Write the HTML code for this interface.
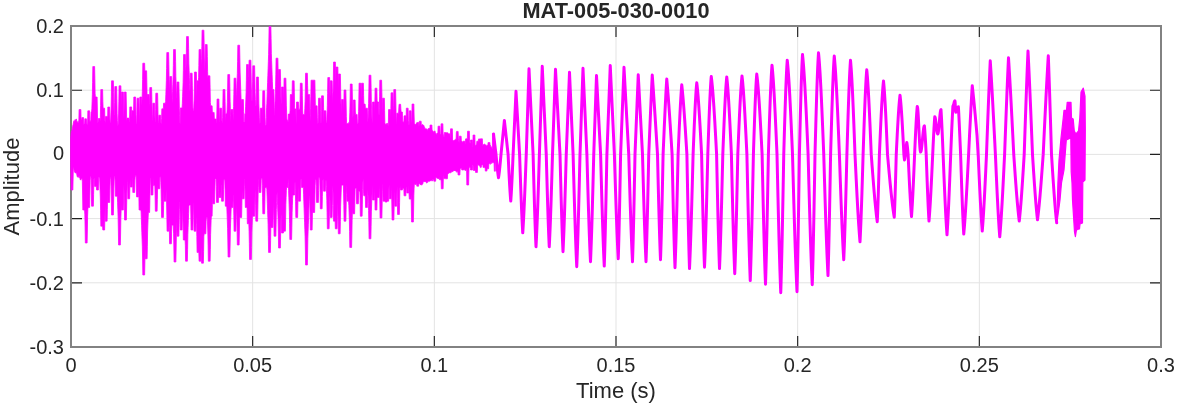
<!DOCTYPE html>
<html><head><meta charset="utf-8"><title>MAT-005-030-0010</title>
<style>html,body{margin:0;padding:0;background:#fff;}body{width:1177px;height:404px;overflow:hidden;position:relative;font-family:"Liberation Sans",sans-serif;}</style>
</head><body>
<svg width="1177" height="404" viewBox="0 0 1177 404" style="position:absolute;left:0;top:0">
<rect x="0" y="0" width="1177" height="404" fill="#ffffff"/>
<path d="M252.67,26.0 V347.0 M434.33,26.0 V347.0 M616.00,26.0 V347.0 M797.67,26.0 V347.0 M979.33,26.0 V347.0 M71.0,90.20 H1161.0 M71.0,154.40 H1161.0 M71.0,218.60 H1161.0 M71.0,282.80 H1161.0" stroke="#e3e3e3" stroke-width="1" fill="none"/>
<path d="M252.67,347.0 v-11 M252.67,26.0 v11 M434.33,347.0 v-11 M434.33,26.0 v11 M616.00,347.0 v-11 M616.00,26.0 v11 M797.67,347.0 v-11 M797.67,26.0 v11 M979.33,347.0 v-11 M979.33,26.0 v11 M71.0,90.20 h11 M1161.0,90.20 h-11 M71.0,154.40 h11 M1161.0,154.40 h-11 M71.0,218.60 h11 M1161.0,218.60 h-11 M71.0,282.80 h11 M1161.0,282.80 h-11" stroke="#202020" stroke-width="1.15" fill="none"/>
<rect x="71.0" y="26.0" width="1090.0" height="321.0" fill="none" stroke="#828282" stroke-width="2"/>
<path d="M70.60,140.0 L70.85,135.8 L71.10,132.7 L71.35,131.1 L71.60,131.1 L71.85,130.6 L72.10,129.7 L72.35,128.0 L72.60,127.1 L72.85,125.2 L73.10,124.5 L73.35,123.1 L73.60,122.0 L73.85,120.8 L74.10,121.1 L74.35,121.4 L74.60,121.5 L74.85,120.0 L75.10,119.6 L75.35,119.9 L75.60,120.6 L75.85,119.8 L76.10,119.3 L76.35,118.9 L76.60,120.0 L76.85,121.2 L77.10,121.7 L77.35,121.5 L77.60,122.8 L77.85,122.8 L78.10,123.1 L78.35,121.9 L78.60,121.2 L78.85,121.2 L79.10,109.5 L79.35,109.5 L79.60,109.5 L79.85,109.5 L80.10,109.5 L80.35,109.5 L80.60,109.5 L80.85,109.5 L81.10,119.9 L81.35,119.6 L81.60,119.9 L81.85,117.6 L82.10,117.6 L82.35,117.6 L82.60,117.6 L82.85,117.6 L83.10,117.6 L83.35,117.6 L83.60,117.6 L83.85,124.7 L84.10,123.9 L84.35,124.0 L84.60,123.9 L84.85,118.8 L85.10,118.8 L85.35,118.8 L85.60,118.8 L85.85,118.8 L86.10,118.8 L86.35,118.8 L86.60,119.5 L86.85,124.0 L87.10,124.0 L87.35,124.2 L87.60,124.4 L87.85,110.8 L88.10,110.8 L88.35,110.8 L88.60,110.8 L88.85,110.8 L89.10,110.8 L89.35,110.8 L89.60,110.8 L89.85,121.2 L90.10,121.4 L90.35,121.2 L90.60,121.8 L90.85,119.3 L91.10,111.9 L91.35,111.9 L91.60,111.9 L91.85,108.7 L92.10,101.7 L92.35,94.7 L92.60,82.5 L92.85,66.5 L93.10,66.5 L93.35,66.5 L93.60,66.5 L93.85,66.5 L94.10,66.5 L94.35,66.5 L94.60,66.5 L94.85,78.5 L95.10,93.3 L95.35,97.0 L95.60,97.0 L95.85,97.0 L96.10,97.0 L96.35,97.0 L96.60,97.0 L96.85,97.0 L97.10,97.0 L97.35,109.0 L97.60,122.6 L97.85,122.6 L98.10,122.0 L98.35,118.5 L98.60,118.5 L98.85,118.5 L99.10,118.5 L99.35,118.5 L99.60,118.5 L99.85,118.5 L100.10,121.6 L100.35,117.7 L100.60,105.5 L100.85,89.5 L101.10,89.5 L101.35,89.5 L101.60,89.5 L101.85,89.5 L102.10,89.5 L102.35,89.5 L102.60,89.5 L102.85,101.5 L103.10,108.2 L103.35,108.2 L103.60,108.2 L103.85,108.2 L104.10,108.2 L104.35,108.2 L104.60,108.2 L104.85,120.2 L105.10,122.1 L105.35,123.1 L105.60,116.4 L105.85,116.4 L106.10,116.4 L106.35,116.4 L106.60,116.4 L106.85,116.4 L107.10,116.4 L107.35,116.6 L107.60,123.0 L107.85,107.0 L108.10,107.0 L108.35,107.0 L108.60,107.0 L108.85,107.0 L109.10,107.0 L109.35,107.0 L109.60,107.0 L109.85,119.0 L110.10,121.9 L110.35,122.6 L110.60,122.6 L110.85,116.0 L111.10,109.0 L111.35,96.8 L111.60,80.8 L111.85,80.8 L112.10,80.8 L112.35,80.8 L112.60,80.8 L112.85,80.8 L113.10,80.8 L113.35,80.8 L113.60,92.7 L113.85,107.5 L114.10,114.5 L114.35,114.7 L114.60,102.5 L114.85,86.5 L115.10,86.5 L115.35,86.5 L115.60,86.5 L115.85,86.5 L116.10,86.5 L116.35,86.5 L116.60,86.5 L116.85,98.5 L117.10,113.3 L117.35,120.3 L117.60,126.1 L117.85,125.8 L118.10,124.6 L118.35,121.0 L118.60,114.0 L118.85,101.8 L119.10,85.8 L119.35,85.8 L119.60,85.8 L119.85,85.8 L120.10,85.8 L120.35,85.8 L120.60,85.8 L120.85,85.8 L121.10,97.7 L121.35,108.0 L121.60,92.0 L121.85,92.0 L122.10,92.0 L122.35,92.0 L122.60,92.0 L122.85,92.0 L123.10,92.0 L123.35,92.0 L123.60,104.0 L123.85,118.8 L124.10,108.0 L124.35,92.0 L124.60,92.0 L124.85,92.0 L125.10,92.0 L125.35,92.0 L125.60,92.0 L125.85,92.0 L126.10,92.0 L126.35,104.0 L126.60,118.8 L126.85,120.5 L127.10,118.1 L127.35,118.1 L127.60,118.1 L127.85,118.1 L128.10,118.1 L128.35,118.1 L128.60,118.1 L128.85,118.1 L129.10,121.4 L129.35,122.2 L129.60,118.4 L129.85,106.9 L130.10,106.9 L130.35,106.9 L130.60,106.9 L130.85,106.9 L131.10,106.9 L131.35,106.9 L131.60,106.9 L131.85,117.8 L132.10,110.7 L132.35,110.7 L132.60,110.7 L132.85,110.7 L133.10,110.7 L133.35,110.7 L133.60,110.7 L133.85,97.0 L134.10,97.0 L134.35,97.0 L134.60,97.0 L134.85,97.0 L135.10,97.0 L135.35,97.0 L135.60,97.0 L135.85,109.0 L136.10,123.8 L136.35,123.3 L136.60,123.1 L136.85,114.3 L137.10,98.2 L137.35,98.2 L137.60,98.2 L137.85,98.2 L138.10,98.2 L138.35,98.2 L138.60,98.2 L138.85,98.2 L139.10,110.2 L139.35,123.2 L139.60,113.0 L139.85,97.0 L140.10,97.0 L140.35,97.0 L140.60,97.0 L140.85,97.0 L141.10,97.0 L141.35,97.0 L141.60,97.0 L141.85,105.5 L142.10,98.5 L142.35,91.5 L142.60,79.3 L142.85,63.2 L143.10,63.2 L143.35,63.2 L143.60,63.2 L143.85,63.2 L144.10,63.2 L144.35,63.2 L144.60,63.2 L144.85,70.8 L145.10,70.8 L145.35,70.8 L145.60,70.8 L145.85,70.8 L146.10,70.8 L146.35,70.8 L146.60,70.8 L146.85,82.7 L147.10,97.5 L147.35,94.5 L147.60,94.5 L147.85,94.5 L148.10,94.5 L148.35,94.5 L148.60,94.5 L148.85,94.5 L149.10,94.5 L149.35,106.5 L149.60,103.5 L149.85,87.5 L150.10,87.5 L150.35,87.5 L150.60,87.5 L150.85,87.5 L151.10,87.5 L151.35,87.5 L151.60,87.5 L151.85,99.5 L152.10,114.3 L152.35,121.3 L152.60,119.3 L152.85,103.2 L153.10,103.2 L153.35,103.2 L153.60,103.2 L153.85,103.2 L154.10,103.2 L154.35,103.2 L154.60,103.2 L154.85,115.2 L155.10,121.2 L155.35,121.5 L155.60,109.3 L155.85,93.2 L156.10,93.2 L156.35,93.2 L156.60,93.2 L156.85,93.2 L157.10,93.2 L157.35,93.2 L157.60,93.2 L157.85,105.2 L158.10,120.0 L158.35,122.7 L158.60,122.9 L158.85,115.2 L159.10,115.2 L159.35,115.2 L159.60,115.2 L159.85,115.2 L160.10,115.2 L160.35,115.2 L160.60,115.2 L160.85,122.6 L161.10,123.4 L161.35,124.1 L161.60,118.5 L161.85,108.8 L162.10,108.8 L162.35,108.8 L162.60,108.8 L162.85,108.8 L163.10,108.8 L163.35,108.8 L163.60,103.2 L163.85,103.2 L164.10,103.2 L164.35,103.2 L164.60,103.2 L164.85,103.2 L165.10,103.2 L165.35,103.2 L165.60,101.7 L165.85,94.7 L166.10,87.7 L166.35,80.7 L166.60,68.5 L166.85,52.5 L167.10,52.5 L167.35,52.5 L167.60,52.5 L167.85,52.5 L168.10,52.5 L168.35,52.5 L168.60,52.5 L168.85,64.5 L169.10,79.3 L169.35,86.3 L169.60,92.5 L169.85,76.5 L170.10,76.5 L170.35,76.5 L170.60,76.5 L170.85,76.5 L171.10,76.5 L171.35,76.5 L171.60,76.5 L171.85,88.5 L172.10,103.3 L172.35,98.7 L172.60,91.7 L172.85,84.7 L173.10,77.7 L173.35,65.5 L173.60,49.5 L173.85,49.5 L174.10,49.5 L174.35,49.5 L174.60,49.5 L174.85,49.5 L175.10,49.5 L175.35,49.5 L175.60,61.5 L175.85,76.3 L176.10,83.3 L176.35,90.3 L176.60,97.3 L176.85,98.0 L177.10,82.0 L177.35,82.0 L177.60,82.0 L177.85,82.0 L178.10,82.0 L178.35,82.0 L178.60,82.0 L178.85,82.0 L179.10,94.0 L179.35,108.8 L179.60,115.8 L179.85,122.8 L180.10,123.7 L180.35,107.9 L180.60,107.9 L180.85,107.9 L181.10,107.9 L181.35,107.9 L181.60,107.9 L181.85,107.9 L182.10,107.9 L182.35,103.7 L182.60,96.7 L182.85,89.7 L183.10,82.7 L183.35,70.5 L183.60,54.5 L183.85,54.5 L184.10,54.5 L184.35,54.5 L184.60,54.5 L184.85,54.5 L185.10,54.5 L185.35,54.5 L185.60,66.5 L185.85,71.7 L186.10,64.7 L186.35,52.5 L186.60,36.5 L186.85,36.5 L187.10,36.5 L187.35,36.5 L187.60,36.5 L187.85,36.5 L188.10,36.5 L188.35,36.5 L188.60,48.5 L188.85,63.3 L189.10,70.3 L189.35,77.3 L189.60,84.3 L189.85,91.3 L190.10,89.3 L190.35,73.2 L190.60,73.2 L190.85,73.2 L191.10,73.2 L191.35,73.2 L191.60,73.2 L191.85,73.2 L192.10,73.2 L192.35,85.2 L192.60,100.0 L192.85,107.0 L193.10,110.8 L193.35,110.8 L193.60,110.8 L193.85,107.2 L194.10,100.2 L194.35,88.0 L194.60,72.0 L194.85,72.0 L195.10,72.0 L195.35,72.0 L195.60,72.0 L195.85,72.0 L196.10,72.0 L196.35,72.0 L196.60,84.0 L196.85,96.8 L197.10,80.8 L197.35,80.8 L197.60,80.8 L197.85,80.8 L198.10,80.8 L198.35,80.8 L198.60,77.7 L198.85,65.5 L199.10,49.5 L199.35,49.5 L199.60,49.5 L199.85,49.5 L200.10,49.5 L200.35,49.5 L200.60,49.5 L200.85,49.5 L201.10,61.5 L201.35,65.5 L201.60,58.5 L201.85,46.3 L202.10,30.2 L202.35,30.2 L202.60,30.2 L202.85,30.2 L203.10,30.2 L203.35,30.2 L203.60,30.2 L203.85,30.2 L204.10,42.2 L204.35,57.0 L204.60,64.0 L204.85,71.0 L205.10,60.5 L205.35,44.5 L205.60,44.5 L205.85,44.5 L206.10,44.5 L206.35,44.5 L206.60,44.5 L206.85,44.5 L207.10,44.5 L207.35,56.5 L207.60,71.3 L207.85,78.3 L208.10,75.8 L208.35,75.8 L208.60,75.8 L208.85,75.8 L209.10,75.8 L209.35,75.8 L209.60,75.8 L209.85,75.8 L210.10,87.7 L210.35,102.5 L210.60,105.8 L210.85,105.8 L211.10,105.8 L211.35,105.8 L211.60,105.8 L211.85,105.8 L212.10,105.8 L212.35,113.3 L212.60,112.4 L212.85,112.4 L213.10,112.4 L213.35,112.4 L213.60,112.4 L213.85,112.4 L214.10,112.4 L214.35,119.0 L214.60,119.0 L214.85,119.0 L215.10,119.0 L215.35,119.0 L215.60,119.0 L215.85,119.0 L216.10,119.0 L216.35,123.0 L216.60,122.7 L216.85,115.0 L217.10,99.0 L217.35,99.0 L217.60,99.0 L217.85,99.0 L218.10,99.0 L218.35,99.0 L218.60,99.0 L218.85,99.0 L219.10,111.0 L219.35,122.1 L219.60,121.7 L219.85,108.2 L220.10,108.2 L220.35,108.2 L220.60,108.2 L220.85,108.2 L221.10,108.2 L221.35,108.2 L221.60,108.2 L221.85,120.2 L222.10,122.1 L222.35,122.7 L222.60,117.7 L222.85,105.5 L223.10,89.5 L223.35,89.5 L223.60,89.5 L223.85,89.5 L224.10,89.5 L224.35,89.5 L224.60,89.5 L224.85,89.5 L225.10,101.5 L225.35,116.3 L225.60,122.3 L225.85,113.8 L226.10,113.8 L226.35,113.8 L226.60,113.8 L226.85,113.8 L227.10,109.7 L227.35,102.7 L227.60,90.5 L227.85,74.5 L228.10,74.5 L228.35,74.5 L228.60,74.5 L228.85,74.5 L229.10,74.5 L229.35,74.5 L229.60,74.5 L229.85,86.5 L230.10,101.3 L230.35,108.3 L230.60,115.3 L230.85,122.0 L231.10,109.5 L231.35,109.5 L231.60,109.5 L231.85,109.5 L232.10,109.5 L232.35,109.5 L232.60,109.5 L232.85,109.5 L233.10,120.5 L233.35,113.5 L233.60,106.5 L233.85,94.3 L234.10,78.2 L234.35,78.2 L234.60,78.2 L234.85,78.2 L235.10,78.2 L235.35,78.2 L235.60,78.2 L235.85,78.2 L236.10,90.2 L236.35,101.5 L236.60,94.5 L236.85,87.5 L237.10,80.5 L237.35,73.5 L237.60,61.3 L237.85,45.2 L238.10,45.2 L238.35,45.2 L238.60,45.2 L238.85,45.2 L239.10,45.2 L239.35,45.2 L239.60,45.2 L239.85,57.2 L240.10,72.0 L240.35,79.0 L240.60,86.0 L240.85,93.0 L241.10,100.0 L241.35,107.0 L241.60,99.5 L241.85,99.5 L242.10,99.5 L242.35,99.5 L242.60,99.5 L242.85,99.5 L243.10,99.5 L243.35,99.5 L243.60,111.5 L243.85,121.8 L244.10,122.4 L244.35,122.0 L244.60,123.1 L244.85,113.7 L245.10,113.7 L245.35,113.7 L245.60,106.7 L245.85,99.7 L246.10,92.7 L246.35,80.5 L246.60,64.5 L246.85,64.5 L247.10,64.5 L247.35,64.5 L247.60,64.5 L247.85,64.5 L248.10,64.5 L248.35,64.5 L248.60,76.5 L248.85,76.3 L249.10,60.2 L249.35,60.2 L249.60,60.2 L249.85,60.2 L250.10,60.2 L250.35,60.2 L250.60,60.2 L250.85,60.2 L251.10,72.2 L251.35,87.0 L251.60,94.0 L251.85,101.0 L252.10,101.0 L252.35,94.0 L252.60,81.8 L252.85,65.8 L253.10,65.8 L253.35,65.8 L253.60,65.8 L253.85,65.8 L254.10,65.8 L254.35,65.8 L254.60,65.8 L254.85,77.7 L255.10,92.5 L255.35,99.5 L255.60,105.9 L255.85,105.9 L256.10,105.2 L256.35,93.0 L256.60,77.0 L256.85,77.0 L257.10,77.0 L257.35,77.0 L257.60,77.0 L257.85,77.0 L258.10,77.0 L258.35,77.0 L258.60,89.0 L258.85,103.8 L259.10,110.8 L259.35,117.8 L259.60,123.9 L259.85,123.1 L260.10,123.0 L260.35,108.2 L260.60,108.2 L260.85,108.2 L261.10,108.2 L261.35,108.2 L261.60,108.2 L261.85,108.2 L262.10,108.2 L262.35,118.9 L262.60,106.7 L262.85,90.8 L263.10,90.8 L263.35,90.8 L263.60,90.8 L263.85,90.8 L264.10,90.8 L264.35,90.8 L264.60,90.8 L264.85,102.8 L265.10,117.6 L265.35,124.6 L265.60,125.4 L265.85,125.1 L266.10,124.7 L266.35,117.7 L266.60,107.8 L266.85,103.7 L267.10,96.7 L267.35,89.7 L267.60,82.7 L267.85,75.7 L268.10,68.7 L268.35,61.7 L268.60,54.7 L268.85,42.5 L269.10,26.5 L269.35,26.5 L269.60,26.5 L269.85,26.5 L270.10,26.5 L270.35,26.5 L270.60,26.5 L270.85,26.5 L271.10,38.5 L271.35,53.3 L271.60,60.3 L271.85,67.3 L272.10,74.3 L272.35,81.3 L272.60,88.3 L272.85,89.5 L273.10,89.5 L273.35,89.5 L273.60,89.5 L273.85,89.5 L274.10,101.5 L274.35,116.3 L274.60,114.4 L274.85,107.4 L275.10,100.4 L275.35,93.4 L275.60,86.4 L275.85,74.2 L276.10,58.2 L276.35,58.2 L276.60,58.2 L276.85,58.2 L277.10,58.2 L277.35,58.2 L277.60,58.2 L277.85,58.2 L278.10,70.3 L278.35,85.1 L278.60,69.5 L278.85,69.5 L279.10,69.5 L279.35,69.5 L279.60,69.5 L279.85,69.5 L280.10,69.5 L280.35,69.5 L280.60,81.5 L280.85,96.3 L281.10,103.3 L281.35,103.0 L281.60,87.0 L281.85,87.0 L282.10,87.0 L282.35,87.0 L282.60,87.0 L282.85,87.0 L283.10,87.0 L283.35,87.0 L283.60,99.0 L283.85,94.2 L284.10,78.2 L284.35,78.2 L284.60,78.2 L284.85,78.2 L285.10,78.2 L285.35,78.2 L285.60,78.2 L285.85,78.2 L286.10,90.3 L286.35,105.1 L286.60,112.1 L286.85,119.1 L287.10,119.9 L287.35,119.9 L287.60,122.3 L287.85,121.6 L288.10,122.3 L288.35,114.1 L288.60,114.1 L288.85,114.1 L289.10,114.1 L289.35,114.1 L289.60,114.1 L289.85,114.1 L290.10,110.5 L290.35,94.5 L290.60,94.5 L290.85,94.5 L291.10,94.5 L291.35,94.5 L291.60,94.5 L291.85,94.5 L292.10,94.5 L292.35,80.8 L292.60,80.8 L292.85,80.8 L293.10,80.8 L293.35,80.8 L293.60,80.8 L293.85,80.8 L294.10,80.8 L294.35,92.8 L294.60,107.6 L294.85,109.0 L295.10,109.0 L295.35,109.0 L295.60,109.0 L295.85,109.0 L296.10,124.0 L296.35,118.0 L296.60,102.0 L296.85,102.0 L297.10,102.0 L297.35,102.0 L297.60,102.0 L297.85,102.0 L298.10,102.0 L298.35,102.0 L298.60,109.2 L298.85,109.2 L299.10,109.2 L299.35,109.2 L299.60,109.2 L299.85,109.2 L300.10,99.2 L300.35,83.2 L300.60,83.2 L300.85,83.2 L301.10,83.2 L301.35,83.2 L301.60,83.2 L301.85,83.2 L302.10,83.2 L302.35,95.3 L302.60,110.1 L302.85,114.5 L303.10,114.5 L303.35,114.5 L303.60,114.5 L303.85,114.5 L304.10,114.5 L304.35,114.5 L304.60,114.5 L304.85,108.4 L305.10,101.4 L305.35,89.2 L305.60,73.2 L305.85,73.2 L306.10,73.2 L306.35,73.2 L306.60,73.2 L306.85,73.2 L307.10,73.2 L307.35,73.2 L307.60,85.3 L307.85,94.5 L308.10,94.5 L308.35,94.5 L308.60,94.5 L308.85,94.5 L309.10,94.5 L309.35,94.5 L309.60,94.5 L309.85,106.5 L310.10,121.3 L310.35,115.4 L310.60,108.4 L310.85,96.2 L311.10,80.2 L311.35,80.2 L311.60,80.2 L311.85,80.2 L312.10,80.2 L312.35,80.2 L312.60,80.2 L312.85,80.2 L313.10,80.2 L313.35,80.2 L313.60,80.2 L313.85,80.2 L314.10,80.2 L314.35,80.2 L314.60,80.2 L314.85,80.2 L315.10,92.3 L315.35,105.8 L315.60,105.8 L315.85,105.8 L316.10,105.8 L316.35,105.8 L316.60,105.8 L316.85,105.8 L317.10,105.8 L317.35,117.8 L317.60,124.0 L317.85,123.6 L318.10,123.1 L318.35,114.2 L318.60,98.2 L318.85,98.2 L319.10,98.2 L319.35,98.2 L319.60,98.2 L319.85,98.2 L320.10,98.2 L320.35,98.2 L320.60,110.3 L320.85,123.0 L321.10,122.8 L321.35,111.7 L321.60,95.8 L321.85,95.8 L322.10,95.8 L322.35,95.8 L322.60,95.8 L322.85,95.8 L323.10,95.8 L323.35,95.8 L323.60,107.8 L323.85,122.6 L324.10,110.8 L324.35,110.8 L324.60,110.8 L324.85,110.8 L325.10,110.8 L325.35,110.8 L325.60,110.8 L325.85,110.8 L326.10,122.8 L326.35,122.9 L326.60,123.1 L326.85,119.7 L327.10,112.7 L327.35,105.7 L327.60,93.5 L327.85,77.5 L328.10,77.5 L328.35,77.5 L328.60,77.5 L328.85,77.5 L329.10,77.5 L329.35,77.5 L329.60,77.5 L329.85,89.5 L330.10,96.7 L330.35,80.8 L330.60,80.8 L330.85,80.8 L331.10,80.8 L331.35,80.8 L331.60,80.8 L331.85,80.8 L332.10,80.8 L332.35,92.8 L332.60,104.2 L332.85,97.2 L333.10,90.2 L333.35,78.0 L333.60,62.0 L333.85,62.0 L334.10,62.0 L334.35,62.0 L334.60,62.0 L334.85,62.0 L335.10,62.0 L335.35,62.0 L335.60,74.0 L335.85,83.0 L336.10,67.0 L336.35,67.0 L336.60,67.0 L336.85,67.0 L337.10,67.0 L337.35,67.0 L337.60,67.0 L337.85,67.0 L338.10,79.0 L338.35,90.0 L338.60,74.0 L338.85,74.0 L339.10,74.0 L339.35,74.0 L339.60,74.0 L339.85,74.0 L340.10,74.0 L340.35,74.0 L340.60,86.0 L340.85,100.8 L341.10,107.8 L341.35,114.8 L341.60,99.5 L341.85,99.5 L342.10,99.5 L342.35,99.5 L342.60,99.5 L342.85,99.5 L343.10,99.5 L343.35,99.5 L343.60,111.5 L343.85,106.0 L344.10,90.0 L344.35,90.0 L344.60,90.0 L344.85,90.0 L345.10,90.0 L345.35,90.0 L345.60,90.0 L345.85,90.0 L346.10,102.0 L346.35,116.8 L346.60,123.4 L346.85,123.6 L347.10,124.1 L347.35,123.4 L347.60,124.0 L347.85,124.1 L348.10,123.6 L348.35,123.7 L348.60,123.6 L348.85,122.5 L349.10,122.8 L349.35,123.2 L349.60,119.2 L349.85,112.2 L350.10,100.0 L350.35,84.0 L350.60,84.0 L350.85,84.0 L351.10,84.0 L351.35,84.0 L351.60,84.0 L351.85,84.0 L352.10,84.0 L352.35,96.0 L352.60,110.8 L352.85,117.8 L353.10,116.0 L353.35,100.0 L353.60,100.0 L353.85,100.0 L354.10,100.0 L354.35,100.0 L354.60,100.0 L354.85,100.0 L355.10,100.0 L355.35,112.0 L355.60,114.4 L355.85,114.4 L356.10,114.4 L356.35,114.4 L356.60,114.4 L356.85,114.4 L357.10,114.4 L357.35,123.5 L357.60,123.7 L357.85,123.2 L358.10,123.3 L358.35,118.4 L358.60,111.4 L358.85,99.2 L359.10,83.2 L359.35,83.2 L359.60,83.2 L359.85,83.2 L360.10,83.2 L360.35,83.2 L360.60,83.2 L360.85,83.2 L361.10,95.3 L361.35,99.2 L361.60,83.2 L361.85,83.2 L362.10,83.2 L362.35,83.2 L362.60,83.2 L362.85,83.2 L363.10,83.2 L363.35,83.2 L363.60,95.3 L363.85,104.1 L364.10,104.1 L364.35,104.1 L364.60,104.1 L364.85,104.1 L365.10,104.1 L365.35,107.4 L365.60,108.2 L365.85,108.2 L366.10,108.2 L366.35,108.2 L366.60,108.2 L366.85,108.2 L367.10,108.2 L367.35,108.2 L367.60,120.3 L367.85,122.2 L368.10,117.4 L368.35,110.4 L368.60,103.4 L368.85,91.2 L369.10,75.2 L369.35,75.2 L369.60,75.2 L369.85,75.2 L370.10,75.2 L370.35,75.2 L370.60,75.2 L370.85,75.2 L371.10,87.3 L371.35,102.1 L371.60,109.1 L371.85,116.1 L372.10,123.1 L372.35,118.0 L372.60,102.0 L372.85,102.0 L373.10,102.0 L373.35,102.0 L373.60,102.0 L373.85,102.0 L374.10,102.0 L374.35,102.0 L374.60,114.0 L374.85,104.2 L375.10,88.2 L375.35,88.2 L375.60,88.2 L375.85,88.2 L376.10,88.2 L376.35,88.2 L376.60,88.2 L376.85,88.2 L377.10,100.3 L377.35,102.0 L377.60,102.0 L377.85,102.0 L378.10,102.0 L378.35,102.0 L378.60,102.0 L378.85,114.0 L379.10,115.4 L379.35,108.4 L379.60,96.2 L379.85,80.2 L380.10,80.2 L380.35,80.2 L380.60,80.2 L380.85,80.2 L381.10,80.2 L381.35,80.2 L381.60,80.2 L381.85,92.3 L382.10,107.1 L382.35,114.1 L382.60,98.2 L382.85,98.2 L383.10,98.2 L383.35,98.2 L383.60,98.2 L383.85,98.2 L384.10,98.2 L384.35,98.2 L384.60,110.3 L384.85,122.8 L385.10,123.8 L385.35,124.0 L385.60,124.6 L385.85,124.5 L386.10,124.0 L386.35,123.5 L386.60,124.3 L386.85,124.2 L387.10,124.0 L387.35,123.4 L387.60,123.4 L387.85,124.4 L388.10,125.5 L388.35,125.0 L388.60,109.5 L388.85,109.5 L389.10,109.5 L389.35,109.5 L389.60,109.5 L389.85,109.5 L390.10,109.5 L390.35,109.5 L390.60,120.9 L390.85,108.7 L391.10,92.8 L391.35,92.8 L391.60,92.8 L391.85,92.8 L392.10,92.8 L392.35,92.8 L392.60,92.8 L392.85,92.8 L393.10,104.8 L393.35,117.7 L393.60,105.5 L393.85,89.5 L394.10,89.5 L394.35,89.5 L394.60,89.5 L394.85,89.5 L395.10,89.5 L395.35,89.5 L395.60,89.5 L395.85,101.5 L396.10,116.3 L396.35,123.2 L396.60,123.1 L396.85,113.2 L397.10,113.2 L397.35,113.2 L397.60,113.2 L397.85,113.2 L398.10,113.2 L398.35,113.2 L398.60,113.2 L398.85,107.9 L399.10,104.3 L399.35,104.3 L399.60,104.3 L399.85,104.3 L400.10,104.3 L400.35,104.3 L400.60,104.3 L400.85,108.7 L401.10,112.0 L401.35,112.0 L401.60,112.0 L401.85,112.0 L402.10,112.0 L402.35,112.0 L402.60,122.0 L402.85,121.7 L403.10,122.2 L403.35,122.1 L403.60,121.9 L403.85,122.3 L404.10,115.8 L404.35,115.8 L404.60,115.8 L404.85,115.8 L405.10,115.8 L405.35,115.8 L405.60,115.8 L405.85,115.8 L406.10,122.4 L406.35,108.2 L406.60,108.2 L406.85,108.2 L407.10,108.2 L407.35,108.2 L407.60,108.2 L407.85,108.2 L408.10,108.2 L408.35,120.3 L408.60,124.0 L408.85,124.5 L409.10,125.1 L409.35,110.8 L409.60,110.8 L409.85,110.8 L410.10,110.8 L410.35,110.8 L410.60,110.8 L410.85,110.8 L411.10,110.8 L411.35,121.4 L411.60,122.5 L411.85,120.0 L412.10,104.0 L412.35,104.0 L412.60,104.0 L412.85,104.0 L413.10,104.0 L413.35,104.0 L413.60,104.0 L413.85,104.0 L414.10,116.0 L414.35,124.1 L414.60,124.6 L414.85,124.0 L415.10,124.0 L415.35,124.7 L415.60,125.3 L415.85,124.4 L416.10,123.6 L416.35,123.6 L416.60,123.6 L416.85,122.5 L417.10,122.5 L417.35,122.5 L417.60,122.5 L417.85,122.5 L418.10,122.5 L418.35,122.5 L418.60,122.5 L418.85,126.2 L419.10,125.4 L419.35,121.2 L419.60,121.2 L419.85,121.2 L420.10,121.2 L420.35,121.2 L420.60,121.2 L420.85,121.2 L421.10,121.2 L421.35,125.8 L421.60,125.2 L421.85,125.5 L422.10,125.0 L422.35,124.4 L422.60,124.5 L422.85,125.1 L423.10,124.9 L423.35,125.8 L423.60,125.5 L423.85,125.4 L424.10,126.5 L424.35,126.7 L424.60,127.2 L424.85,128.5 L425.10,128.9 L425.35,128.9 L425.60,129.6 L425.85,128.5 L426.10,129.6 L426.35,129.6 L426.60,129.3 L426.85,128.8 L427.10,129.2 L427.35,129.8 L427.60,130.5 L427.85,130.1 L428.10,129.2 L428.35,128.7 L428.60,128.3 L428.85,128.9 L429.10,128.6 L429.35,128.3 L429.60,128.7 L429.85,129.0 L430.10,125.0 L430.35,125.0 L430.60,125.0 L430.85,125.0 L431.10,125.0 L431.35,125.0 L431.60,125.0 L431.85,125.0 L432.10,130.7 L432.35,130.6 L432.60,130.9 L432.85,130.7 L433.10,131.8 L433.35,132.2 L433.60,132.1 L433.85,131.7 L434.10,132.0 L434.35,131.1 L434.60,131.4 L434.85,130.8 L435.10,131.4 L435.35,132.6 L435.60,133.4 L435.85,133.2 L436.10,133.4 L436.35,134.5 L436.60,134.2 L436.85,133.9 L437.10,133.0 L437.35,133.2 L437.60,133.2 L437.85,134.1 L438.10,126.2 L438.35,126.2 L438.60,126.2 L438.85,126.2 L439.10,126.2 L439.35,126.2 L439.60,126.2 L439.85,126.2 L440.10,134.2 L440.35,135.1 L440.60,134.2 L440.85,133.8 L441.10,123.8 L441.35,123.8 L441.60,123.8 L441.85,123.8 L442.10,123.8 L442.35,123.8 L442.60,123.8 L442.85,123.8 L443.10,133.9 L443.35,134.6 L443.60,135.6 L443.85,136.8 L444.10,136.9 L444.35,132.5 L444.60,132.5 L444.85,132.5 L445.10,132.5 L445.35,132.5 L445.60,132.5 L445.85,132.5 L446.10,132.5 L446.35,132.7 L446.60,132.7 L446.85,132.7 L447.10,132.7 L447.35,132.7 L447.60,132.7 L447.85,132.7 L448.10,133.8 L448.35,133.8 L448.60,133.8 L448.85,133.8 L449.10,133.8 L449.35,133.8 L449.60,133.8 L449.85,133.8 L450.10,137.8 L450.35,137.3 L450.60,128.8 L450.85,128.8 L451.10,128.8 L451.35,128.8 L451.60,128.8 L451.85,128.8 L452.10,128.8 L452.35,128.8 L452.60,140.8 L452.85,140.2 L453.10,140.4 L453.35,140.6 L453.60,140.9 L453.85,140.7 L454.10,141.0 L454.35,140.0 L454.60,140.0 L454.85,140.0 L455.10,140.0 L455.35,139.7 L455.60,139.2 L455.85,138.9 L456.10,139.4 L456.35,132.6 L456.60,131.4 L456.85,131.4 L457.10,131.4 L457.35,131.4 L457.60,131.4 L457.85,131.4 L458.10,131.4 L458.35,138.1 L458.60,140.4 L458.85,141.5 L459.10,142.5 L459.35,136.2 L459.60,136.2 L459.85,136.2 L460.10,136.2 L460.35,136.2 L460.60,136.2 L460.85,136.2 L461.10,136.2 L461.35,140.9 L461.60,141.5 L461.85,141.0 L462.10,141.5 L462.35,142.4 L462.60,142.1 L462.85,143.2 L463.10,141.2 L463.35,141.2 L463.60,141.2 L463.85,141.2 L464.10,141.2 L464.35,141.2 L464.60,141.2 L464.85,141.2 L465.10,144.1 L465.35,143.9 L465.60,138.9 L465.85,138.7 L466.10,138.7 L466.35,138.7 L466.60,138.7 L466.85,138.7 L467.10,138.7 L467.35,138.7 L467.60,131.2 L467.85,131.2 L468.10,131.2 L468.35,131.2 L468.60,131.2 L468.85,131.2 L469.10,131.2 L469.35,131.2 L469.60,143.3 L469.85,142.8 L470.10,143.2 L470.35,142.7 L470.60,140.0 L470.85,140.0 L471.10,140.0 L471.35,140.0 L471.60,140.0 L471.85,140.0 L472.10,140.0 L472.35,140.0 L472.60,146.6 L472.85,146.5 L473.10,135.0 L473.35,135.0 L473.60,135.0 L473.85,135.0 L474.10,135.0 L474.35,135.0 L474.60,135.0 L474.85,135.0 L475.10,145.1 L475.35,146.1 L475.60,145.7 L475.85,144.9 L476.10,144.9 L476.35,144.8 L476.60,144.9 L476.85,141.2 L477.10,141.2 L477.35,141.2 L477.60,141.2 L477.85,141.2 L478.10,141.2 L478.35,141.2 L478.60,138.9 L478.85,138.9 L479.10,138.9 L479.35,138.9 L479.60,138.9 L479.85,138.9 L480.10,138.9 L480.35,138.9 L480.60,138.8 L480.85,138.8 L481.10,138.8 L481.35,138.8 L481.60,138.8 L481.85,138.8 L482.10,138.8 L482.35,138.8 L482.60,145.7 L482.85,145.3 L483.10,145.3 L483.35,144.6 L483.60,144.7 L483.85,144.5 L484.10,144.5 L484.35,143.9 L484.60,143.9 L484.85,144.8 L485.10,144.9 L485.35,145.0 L485.60,145.1 L485.85,144.7 L486.10,146.1 L486.35,146.1 L486.60,146.0 L486.85,145.9 L487.10,145.2 L487.35,145.7 L487.60,146.0 L487.85,144.7 L488.10,142.5 L488.35,142.5 L488.60,142.5 L488.85,142.5 L489.10,142.5 L489.35,142.5 L489.60,142.5 L489.85,142.5 L490.10,145.7 L490.35,145.2 L490.60,146.1 L490.85,146.7 L491.10,146.6 L491.35,146.8 L491.60,147.4 L491.85,148.1 L492.10,148.7 L492.35,148.9 L492.60,133.8 L492.85,133.8 L493.10,133.8 L493.35,133.8 L493.60,133.8 L493.85,133.8 L494.10,133.8 L494.35,133.8 L494.60,145.8 L494.85,147.8 L495.10,147.2 L495.35,148.1 L495.35,171.2 L495.10,171.2 L494.85,171.2 L494.60,171.2 L494.35,171.2 L494.10,163.8 L493.85,162.9 L493.60,162.3 L493.35,162.1 L493.10,162.8 L492.85,162.3 L492.60,162.4 L492.35,162.4 L492.10,162.7 L491.85,163.6 L491.60,163.4 L491.35,162.4 L491.10,162.5 L490.85,162.7 L490.60,163.6 L490.35,164.3 L490.10,164.2 L489.85,163.3 L489.60,163.4 L489.35,163.0 L489.10,163.7 L488.85,163.9 L488.60,168.8 L488.35,168.8 L488.10,168.8 L487.85,168.8 L487.60,168.8 L487.35,168.8 L487.10,168.8 L486.85,171.1 L486.60,171.1 L486.35,171.1 L486.10,171.1 L485.85,171.1 L485.60,171.1 L485.35,171.1 L485.10,167.8 L484.85,167.5 L484.60,167.5 L484.35,167.5 L484.10,167.5 L483.85,167.5 L483.60,167.5 L483.35,167.5 L483.10,167.5 L482.85,164.6 L482.60,164.2 L482.35,165.0 L482.10,164.5 L481.85,165.0 L481.60,165.5 L481.35,166.8 L481.10,167.4 L480.85,167.6 L480.60,167.1 L480.35,167.4 L480.10,166.6 L479.85,166.3 L479.60,166.0 L479.35,165.7 L479.10,165.5 L478.85,165.3 L478.60,165.3 L478.35,164.8 L478.10,165.1 L477.85,164.1 L477.60,164.0 L477.35,172.5 L477.10,172.5 L476.85,172.5 L476.60,172.5 L476.35,172.5 L476.10,172.5 L475.85,172.5 L475.60,172.5 L475.35,165.4 L475.10,170.5 L474.85,170.5 L474.60,170.5 L474.35,170.5 L474.10,170.5 L473.85,170.5 L473.60,170.5 L473.35,170.5 L473.10,165.7 L472.85,164.7 L472.60,165.6 L472.35,170.0 L472.10,170.0 L471.85,170.0 L471.60,170.0 L471.35,170.0 L471.10,170.0 L470.85,170.0 L470.60,170.0 L470.35,168.2 L470.10,167.2 L469.85,167.5 L469.60,166.9 L469.35,166.8 L469.10,166.9 L468.85,173.0 L468.60,185.0 L468.35,185.0 L468.10,185.0 L467.85,185.0 L467.60,185.0 L467.35,185.0 L467.10,185.0 L466.85,185.0 L466.60,169.1 L466.35,169.3 L466.10,169.7 L465.85,170.0 L465.60,170.6 L465.35,170.5 L465.10,170.5 L464.85,169.6 L464.60,169.8 L464.35,169.7 L464.10,169.7 L463.85,169.4 L463.60,170.0 L463.35,170.0 L463.10,170.0 L462.85,170.0 L462.60,170.0 L462.35,170.0 L462.10,170.0 L461.85,170.0 L461.60,168.6 L461.35,168.0 L461.10,168.4 L460.85,168.2 L460.60,168.2 L460.35,168.4 L460.10,169.6 L459.85,175.0 L459.60,175.0 L459.35,175.0 L459.10,175.0 L458.85,175.0 L458.60,175.0 L458.35,175.0 L458.10,175.0 L457.85,171.0 L457.60,170.9 L457.35,171.3 L457.10,172.3 L456.85,172.3 L456.60,171.4 L456.35,171.1 L456.10,171.2 L455.85,170.9 L455.60,171.1 L455.35,170.9 L455.10,170.8 L454.85,170.5 L454.60,170.8 L454.35,170.1 L454.10,171.0 L453.85,170.6 L453.60,170.4 L453.35,170.9 L453.10,170.9 L452.85,171.8 L452.60,171.8 L452.35,171.5 L452.10,171.5 L451.85,171.5 L451.60,171.7 L451.35,172.3 L451.10,171.6 L450.85,172.4 L450.60,172.6 L450.35,173.0 L450.10,173.0 L449.85,172.9 L449.60,172.7 L449.35,172.8 L449.10,172.9 L448.85,173.0 L448.60,173.4 L448.35,173.5 L448.10,173.8 L447.85,174.0 L447.60,174.0 L447.35,178.8 L447.10,178.8 L446.85,178.8 L446.60,178.8 L446.35,178.8 L446.10,178.8 L445.85,178.8 L445.60,178.8 L445.35,178.6 L445.10,178.6 L444.85,178.6 L444.60,178.6 L444.35,178.6 L444.10,178.6 L443.85,178.6 L443.60,174.1 L443.35,176.7 L443.10,188.8 L442.85,188.8 L442.60,188.8 L442.35,188.8 L442.10,188.8 L441.85,188.8 L441.60,188.8 L441.35,188.8 L441.10,179.7 L440.85,179.7 L440.60,179.7 L440.35,179.7 L440.10,179.7 L439.85,179.7 L439.60,179.7 L439.35,179.7 L439.10,177.5 L438.85,177.9 L438.60,178.5 L438.35,179.0 L438.10,178.7 L437.85,178.2 L437.60,178.2 L437.35,178.4 L437.10,177.8 L436.85,177.9 L436.60,177.6 L436.35,177.7 L436.10,177.1 L435.85,177.6 L435.60,181.2 L435.35,181.2 L435.10,181.2 L434.85,181.2 L434.60,181.2 L434.35,181.2 L434.10,181.2 L433.85,181.2 L433.60,179.0 L433.35,179.1 L433.10,178.9 L432.85,179.5 L432.60,179.9 L432.35,180.9 L432.10,181.2 L431.85,180.3 L431.60,180.5 L431.35,180.1 L431.10,180.2 L430.85,180.8 L430.60,180.9 L430.35,180.6 L430.10,181.1 L429.85,180.7 L429.60,181.3 L429.35,181.2 L429.10,181.3 L428.85,181.1 L428.60,181.4 L428.35,181.0 L428.10,181.2 L427.85,181.6 L427.60,182.5 L427.35,181.8 L427.10,182.0 L426.85,182.4 L426.60,183.2 L426.35,182.5 L426.10,181.8 L425.85,181.0 L425.60,181.7 L425.35,181.7 L425.10,181.9 L424.85,181.5 L424.60,181.4 L424.35,181.8 L424.10,181.8 L423.85,181.9 L423.60,181.6 L423.35,181.8 L423.10,182.3 L422.85,183.8 L422.60,183.9 L422.35,184.3 L422.10,184.5 L421.85,185.2 L421.60,185.1 L421.35,184.8 L421.10,184.1 L420.85,184.8 L420.60,184.8 L420.35,183.9 L420.10,184.3 L419.85,183.1 L419.60,183.8 L419.35,183.5 L419.10,183.4 L418.85,184.0 L418.60,186.2 L418.35,186.2 L418.10,186.2 L417.85,186.2 L417.60,186.2 L417.35,186.2 L417.10,186.2 L416.85,186.2 L416.60,183.5 L416.35,183.7 L416.10,184.2 L415.85,184.7 L415.60,184.5 L415.35,184.5 L415.10,184.2 L414.85,184.0 L414.60,184.2 L414.35,183.6 L414.10,188.2 L413.85,195.2 L413.60,210.0 L413.35,222.0 L413.10,222.0 L412.85,222.0 L412.60,222.0 L412.35,222.0 L412.10,222.0 L411.85,222.0 L411.60,222.0 L411.35,206.0 L411.10,195.2 L410.85,199.1 L410.60,199.1 L410.35,199.1 L410.10,199.1 L409.85,199.1 L409.60,199.1 L409.35,199.1 L409.10,195.0 L408.85,185.6 L408.60,193.0 L408.35,193.0 L408.10,193.0 L407.85,193.0 L407.60,193.0 L407.35,193.0 L407.10,193.0 L406.85,193.0 L406.60,187.6 L406.35,187.7 L406.10,187.4 L405.85,195.8 L405.60,195.8 L405.35,195.8 L405.10,195.8 L404.85,195.8 L404.60,195.8 L404.35,195.8 L404.10,195.8 L403.85,189.1 L403.60,188.4 L403.35,188.3 L403.10,188.1 L402.85,188.4 L402.60,187.4 L402.35,190.0 L402.10,190.0 L401.85,190.0 L401.60,190.0 L401.35,190.0 L401.10,190.0 L400.85,190.0 L400.60,190.0 L400.35,186.6 L400.10,187.8 L399.85,187.8 L399.60,202.5 L399.35,214.5 L399.10,214.5 L398.85,214.5 L398.60,214.5 L398.35,214.5 L398.10,214.5 L397.85,214.5 L397.60,214.5 L397.35,198.5 L397.10,186.3 L396.85,194.2 L396.60,206.2 L396.35,206.2 L396.10,206.2 L395.85,206.2 L395.60,206.2 L395.35,206.2 L395.10,206.2 L394.85,206.2 L394.60,190.3 L394.35,193.2 L394.10,208.0 L393.85,220.0 L393.60,220.0 L393.35,220.0 L393.10,220.0 L392.85,220.0 L392.60,220.0 L392.35,220.0 L392.10,220.0 L391.85,204.0 L391.60,191.8 L391.35,186.7 L391.10,198.8 L390.85,198.8 L390.60,198.8 L390.35,198.8 L390.10,198.8 L389.85,198.8 L389.60,198.8 L389.35,198.8 L389.10,184.5 L388.85,189.2 L388.60,201.2 L388.35,201.2 L388.10,201.2 L387.85,201.2 L387.60,201.2 L387.35,201.2 L387.10,201.2 L386.85,202.1 L386.60,202.1 L386.35,202.1 L386.10,202.1 L385.85,202.1 L385.60,202.1 L385.35,202.1 L385.10,201.4 L384.85,201.2 L384.60,201.2 L384.35,201.2 L384.10,201.2 L383.85,201.2 L383.60,201.2 L383.35,201.2 L383.10,201.2 L382.85,185.3 L382.60,184.5 L382.35,191.2 L382.10,206.0 L381.85,218.0 L381.60,218.0 L381.35,218.0 L381.10,218.0 L380.85,218.0 L380.60,218.0 L380.35,218.0 L380.10,218.0 L379.85,202.0 L379.60,189.8 L379.35,185.5 L379.10,197.5 L378.85,197.5 L378.60,197.5 L378.35,197.5 L378.10,197.5 L377.85,197.5 L377.60,197.5 L377.35,197.5 L377.10,198.0 L376.85,210.0 L376.60,210.0 L376.35,210.0 L376.10,210.0 L375.85,210.0 L375.60,210.0 L375.35,210.0 L375.10,210.0 L374.85,194.0 L374.60,188.0 L374.35,200.0 L374.10,200.0 L373.85,200.0 L373.60,200.0 L373.35,200.0 L373.10,200.0 L372.85,200.0 L372.60,200.0 L372.35,184.5 L372.10,190.9 L371.85,197.9 L371.60,204.9 L371.35,211.9 L371.10,226.7 L370.85,238.8 L370.60,238.8 L370.35,238.8 L370.10,238.8 L369.85,238.8 L369.60,238.8 L369.35,238.8 L369.10,238.8 L368.85,222.8 L368.60,210.6 L368.35,203.6 L368.10,196.6 L367.85,189.6 L367.60,195.5 L367.35,207.5 L367.10,207.5 L366.85,207.5 L366.60,207.5 L366.35,207.5 L366.10,207.5 L365.85,207.5 L365.60,207.5 L365.35,195.8 L365.10,195.8 L364.85,195.8 L364.60,195.8 L364.35,195.8 L364.10,195.8 L363.85,195.8 L363.60,193.7 L363.35,179.9 L363.10,179.8 L362.85,182.4 L362.60,189.4 L362.35,204.2 L362.10,216.2 L361.85,216.2 L361.60,216.2 L361.35,216.2 L361.10,216.2 L360.85,216.2 L360.60,216.2 L360.35,216.2 L360.10,200.3 L359.85,191.2 L359.60,191.2 L359.35,191.2 L359.10,191.2 L358.85,191.2 L358.60,191.7 L358.35,203.8 L358.10,203.8 L357.85,203.8 L357.60,203.8 L357.35,203.8 L357.10,203.8 L356.85,203.8 L356.60,203.8 L356.35,188.2 L356.10,188.2 L355.85,188.2 L355.60,188.2 L355.35,188.2 L355.10,188.2 L354.85,201.7 L354.60,213.8 L354.35,213.8 L354.10,213.8 L353.85,213.8 L353.60,213.8 L353.35,213.8 L353.10,213.8 L352.85,213.8 L352.60,206.7 L352.35,213.7 L352.10,220.7 L351.85,235.5 L351.60,247.5 L351.35,247.5 L351.10,247.5 L350.85,247.5 L350.60,247.5 L350.35,247.5 L350.10,247.5 L349.85,247.5 L349.60,231.5 L349.35,219.3 L349.10,212.3 L348.85,205.3 L348.60,201.2 L348.35,201.2 L348.10,201.2 L347.85,201.2 L347.60,201.2 L347.35,201.2 L347.10,201.2 L346.85,185.3 L346.60,187.4 L346.35,194.4 L346.10,209.2 L345.85,221.2 L345.60,221.2 L345.35,221.2 L345.10,221.2 L344.85,221.2 L344.60,221.2 L344.35,221.2 L344.10,221.2 L343.85,205.3 L343.60,193.1 L343.35,186.1 L343.10,185.0 L342.85,185.0 L342.60,185.0 L342.35,185.0 L342.10,185.0 L341.85,185.0 L341.60,185.0 L341.35,185.9 L341.10,192.9 L340.85,199.9 L340.60,206.9 L340.35,221.7 L340.10,233.8 L339.85,233.8 L339.60,233.8 L339.35,233.8 L339.10,233.8 L338.85,233.8 L338.60,233.8 L338.35,233.8 L338.10,217.8 L337.85,205.6 L337.60,201.9 L337.35,216.7 L337.10,228.8 L336.85,228.8 L336.60,228.8 L336.35,228.8 L336.10,228.8 L335.85,228.8 L335.60,228.8 L335.35,228.8 L335.10,221.2 L334.85,221.2 L334.60,221.2 L334.35,221.2 L334.10,221.2 L333.85,221.2 L333.60,221.2 L333.35,205.3 L333.10,193.1 L332.85,186.1 L332.60,190.7 L332.35,205.5 L332.10,217.5 L331.85,217.5 L331.60,217.5 L331.35,217.5 L331.10,217.5 L330.85,217.5 L330.60,217.5 L330.35,217.5 L330.10,201.5 L329.85,194.9 L329.60,201.9 L329.35,216.7 L329.10,228.8 L328.85,228.8 L328.60,228.8 L328.35,228.8 L328.10,228.8 L327.85,228.8 L327.60,228.8 L327.35,228.8 L327.10,212.8 L326.85,200.6 L326.60,193.6 L326.35,186.6 L326.10,180.3 L325.85,180.6 L325.60,179.7 L325.35,191.2 L325.10,191.2 L324.85,191.2 L324.60,191.2 L324.35,191.2 L324.10,191.2 L323.85,191.2 L323.60,191.2 L323.35,178.8 L323.10,179.4 L322.85,180.3 L322.60,181.9 L322.35,196.7 L322.10,208.8 L321.85,208.8 L321.60,208.8 L321.35,208.8 L321.10,208.8 L320.85,208.8 L320.60,208.8 L320.35,208.8 L320.10,192.8 L319.85,180.6 L319.60,177.2 L319.35,177.5 L319.10,177.7 L318.85,177.6 L318.60,190.5 L318.35,202.5 L318.10,202.5 L317.85,202.5 L317.60,202.5 L317.35,202.5 L317.10,202.5 L316.85,202.5 L316.60,202.5 L316.35,186.5 L316.10,180.2 L315.85,179.7 L315.60,179.8 L315.35,180.3 L315.10,185.7 L314.85,200.5 L314.60,212.5 L314.35,212.5 L314.10,212.5 L313.85,212.5 L313.60,212.5 L313.35,212.5 L313.10,212.5 L312.85,212.5 L312.60,203.2 L312.35,218.0 L312.10,230.0 L311.85,230.0 L311.60,230.0 L311.35,230.0 L311.10,230.0 L310.85,230.0 L310.60,230.0 L310.35,230.0 L310.10,214.0 L309.85,201.8 L309.60,194.8 L309.35,196.2 L309.10,203.2 L308.85,210.2 L308.60,217.2 L308.35,224.2 L308.10,231.2 L307.85,238.2 L307.60,253.0 L307.35,265.0 L307.10,265.0 L306.85,265.0 L306.60,265.0 L306.35,265.0 L306.10,265.0 L305.85,265.0 L305.60,265.0 L305.35,249.0 L305.10,236.8 L304.85,229.8 L304.60,222.8 L304.35,215.8 L304.10,208.8 L303.85,201.8 L303.60,194.8 L303.35,187.8 L303.10,187.5 L302.85,187.5 L302.60,187.5 L302.35,187.5 L302.10,187.5 L301.85,187.5 L301.60,187.5 L301.35,179.6 L301.10,179.6 L300.85,179.5 L300.60,189.2 L300.35,201.2 L300.10,201.2 L299.85,201.2 L299.60,201.2 L299.35,201.2 L299.10,201.2 L298.85,201.2 L298.60,201.2 L298.35,185.3 L298.10,190.7 L297.85,205.5 L297.60,217.5 L297.35,217.5 L297.10,217.5 L296.85,217.5 L296.60,217.5 L296.35,217.5 L296.10,217.5 L295.85,217.5 L295.60,201.5 L295.35,189.3 L295.10,182.3 L294.85,183.0 L294.60,195.0 L294.35,195.0 L294.10,195.0 L293.85,195.0 L293.60,195.0 L293.35,195.0 L293.10,195.0 L292.85,195.0 L292.60,198.7 L292.35,205.7 L292.10,212.7 L291.85,227.5 L291.60,239.5 L291.35,239.5 L291.10,239.5 L290.85,239.5 L290.60,239.5 L290.35,239.5 L290.10,239.5 L289.85,239.5 L289.60,223.5 L289.35,211.3 L289.10,204.3 L288.85,197.3 L288.60,190.3 L288.35,183.3 L288.10,178.8 L287.85,187.5 L287.60,187.5 L287.35,187.5 L287.10,187.5 L286.85,187.5 L286.60,187.5 L286.35,190.4 L286.10,197.4 L285.85,204.4 L285.60,219.2 L285.35,231.2 L285.10,231.2 L284.85,231.2 L284.60,231.2 L284.35,231.2 L284.10,231.2 L283.85,231.2 L283.60,231.2 L283.35,233.0 L283.10,233.0 L282.85,233.0 L282.60,233.0 L282.35,233.0 L282.10,233.0 L281.85,233.0 L281.60,233.0 L281.35,217.0 L281.10,214.2 L280.85,221.2 L280.60,236.0 L280.35,248.0 L280.10,248.0 L279.85,248.0 L279.60,248.0 L279.35,248.0 L279.10,248.0 L278.85,248.0 L278.60,248.0 L278.35,232.0 L278.10,219.8 L277.85,212.8 L277.60,205.8 L277.35,198.8 L277.10,191.8 L276.85,195.4 L276.60,202.4 L276.35,209.4 L276.10,224.2 L275.85,236.2 L275.60,236.2 L275.35,236.2 L275.10,236.2 L274.85,236.2 L274.60,236.2 L274.35,236.2 L274.10,236.2 L273.85,220.3 L273.60,208.1 L273.35,201.1 L273.10,215.5 L272.85,227.5 L272.60,227.5 L272.35,227.5 L272.10,227.5 L271.85,227.5 L271.60,227.5 L271.35,227.5 L271.10,227.5 L270.85,225.7 L270.60,240.5 L270.35,252.5 L270.10,252.5 L269.85,252.5 L269.60,252.5 L269.35,252.5 L269.10,252.5 L268.85,252.5 L268.60,252.5 L268.35,236.5 L268.10,224.3 L267.85,217.3 L267.60,210.3 L267.35,203.3 L267.10,196.3 L266.85,189.3 L266.60,187.5 L266.35,187.5 L266.10,187.5 L265.85,187.5 L265.60,187.5 L265.35,187.5 L265.10,186.9 L264.85,201.7 L264.60,213.8 L264.35,213.8 L264.10,213.8 L263.85,213.8 L263.60,213.8 L263.35,213.8 L263.10,213.8 L262.85,213.8 L262.60,197.8 L262.35,185.6 L262.10,178.6 L261.85,178.2 L261.60,178.2 L261.35,177.7 L261.10,180.5 L260.85,192.5 L260.60,192.5 L260.35,192.5 L260.10,192.5 L259.85,192.5 L259.60,192.5 L259.35,192.5 L259.10,192.5 L258.85,179.1 L258.60,180.4 L258.35,187.4 L258.10,194.4 L257.85,209.2 L257.60,221.2 L257.35,221.2 L257.10,221.2 L256.85,221.2 L256.60,221.2 L256.35,221.2 L256.10,221.2 L255.85,221.2 L255.60,205.2 L255.35,193.0 L255.10,189.5 L254.85,204.3 L254.60,216.2 L254.35,216.2 L254.10,216.2 L253.85,216.2 L253.60,216.2 L253.35,216.2 L253.10,216.2 L252.85,216.2 L252.60,211.7 L252.35,218.7 L252.10,225.7 L251.85,232.7 L251.60,247.5 L251.35,259.5 L251.10,259.5 L250.85,259.5 L250.60,259.5 L250.35,259.5 L250.10,259.5 L249.85,259.5 L249.60,259.5 L249.35,243.5 L249.10,231.3 L248.85,224.3 L248.60,223.8 L248.35,223.8 L248.10,223.8 L247.85,223.8 L247.60,223.8 L247.35,223.8 L247.10,207.7 L246.85,207.5 L246.60,207.5 L246.35,207.5 L246.10,207.5 L245.85,207.5 L245.60,207.5 L245.35,207.5 L245.10,191.5 L244.85,179.4 L244.60,179.3 L244.35,186.8 L244.10,198.8 L243.85,198.8 L243.60,198.8 L243.35,198.8 L243.10,198.8 L242.85,198.8 L242.60,198.8 L242.35,198.8 L242.10,190.7 L241.85,205.5 L241.60,217.5 L241.35,217.5 L241.10,217.5 L240.85,217.5 L240.60,217.5 L240.35,217.5 L240.10,217.5 L239.85,217.5 L239.60,218.2 L239.35,233.0 L239.10,245.0 L238.85,245.0 L238.60,245.0 L238.35,245.0 L238.10,245.0 L237.85,245.0 L237.60,245.0 L237.35,245.0 L237.10,229.0 L236.85,216.8 L236.60,209.8 L236.35,204.5 L236.10,219.3 L235.85,231.2 L235.60,231.2 L235.35,231.2 L235.10,231.2 L234.85,231.2 L234.60,231.2 L234.35,231.2 L234.10,231.2 L233.85,215.2 L233.60,203.0 L233.35,196.0 L233.10,195.5 L232.85,207.5 L232.60,207.5 L232.35,207.5 L232.10,207.5 L231.85,207.5 L231.60,207.5 L231.35,207.5 L231.10,209.2 L230.85,216.2 L230.60,223.2 L230.35,230.2 L230.10,245.0 L229.85,257.0 L229.60,257.0 L229.35,257.0 L229.10,257.0 L228.85,257.0 L228.60,257.0 L228.35,257.0 L228.10,257.0 L227.85,241.0 L227.60,228.8 L227.35,221.8 L227.10,214.8 L226.85,207.8 L226.60,206.2 L226.35,206.2 L226.10,206.2 L225.85,206.2 L225.60,206.2 L225.35,206.2 L225.10,190.2 L224.85,180.8 L224.60,180.3 L224.35,179.6 L224.10,179.5 L223.85,179.8 L223.60,189.3 L223.35,201.2 L223.10,201.2 L222.85,201.2 L222.60,201.2 L222.35,201.2 L222.10,201.2 L221.85,201.2 L221.60,201.2 L221.35,185.2 L221.10,185.5 L220.85,197.5 L220.60,197.5 L220.35,197.5 L220.10,197.5 L219.85,197.5 L219.60,197.5 L219.35,197.5 L219.10,197.5 L218.85,181.5 L218.60,190.5 L218.35,202.5 L218.10,202.5 L217.85,202.5 L217.60,202.5 L217.35,202.5 L217.10,202.5 L216.85,202.5 L216.60,202.5 L216.35,186.5 L216.10,179.3 L215.85,179.0 L215.60,177.9 L215.35,178.8 L215.10,179.4 L214.85,191.8 L214.60,203.8 L214.35,203.8 L214.10,203.8 L213.85,203.8 L213.60,203.8 L213.35,203.8 L213.10,203.8 L212.85,203.8 L212.60,189.5 L212.35,204.3 L212.10,216.2 L211.85,216.2 L211.60,216.2 L211.35,216.2 L211.10,220.5 L210.85,227.5 L210.60,234.5 L210.35,249.3 L210.10,261.2 L209.85,261.2 L209.60,261.2 L209.35,261.2 L209.10,261.2 L208.85,261.2 L208.60,261.2 L208.35,261.2 L208.10,245.2 L207.85,233.0 L207.60,226.0 L207.35,219.0 L207.10,217.5 L206.85,217.5 L206.60,217.5 L206.35,217.5 L206.10,221.8 L205.85,233.8 L205.60,233.8 L205.35,233.8 L205.10,233.8 L204.85,233.8 L204.60,233.8 L204.35,233.8 L204.10,233.8 L203.85,236.5 L203.60,251.3 L203.35,263.2 L203.10,263.2 L202.85,263.2 L202.60,263.2 L202.35,263.2 L202.10,263.2 L201.85,263.2 L201.60,263.2 L201.35,247.2 L201.10,249.3 L200.85,261.2 L200.60,261.2 L200.35,261.2 L200.10,261.2 L199.85,261.2 L199.60,261.2 L199.35,261.2 L199.10,261.2 L198.85,252.5 L198.60,252.5 L198.35,252.5 L198.10,252.5 L197.85,252.5 L197.60,252.5 L197.35,252.5 L197.10,252.5 L196.85,236.5 L196.60,224.3 L196.35,217.3 L196.10,219.3 L195.85,231.2 L195.60,231.2 L195.35,231.2 L195.10,231.2 L194.85,231.2 L194.60,231.2 L194.35,231.2 L194.10,231.2 L193.85,215.2 L193.60,203.0 L193.35,203.2 L193.10,218.0 L192.85,230.0 L192.60,230.0 L192.35,230.0 L192.10,230.0 L191.85,230.0 L191.60,230.0 L191.35,230.0 L191.10,230.0 L190.85,214.0 L190.60,201.8 L190.35,205.0 L190.10,205.0 L189.85,205.0 L189.60,205.0 L189.35,205.0 L189.10,205.0 L188.85,206.5 L188.60,213.5 L188.35,220.5 L188.10,227.5 L187.85,234.5 L187.60,249.3 L187.35,261.2 L187.10,261.2 L186.85,261.2 L186.60,261.2 L186.35,261.2 L186.10,261.2 L185.85,261.2 L185.60,261.2 L185.35,245.2 L185.10,240.0 L184.85,240.0 L184.60,240.0 L184.35,240.0 L184.10,240.0 L183.85,240.0 L183.60,240.0 L183.35,240.0 L183.10,224.0 L182.85,211.8 L182.60,204.8 L182.35,218.0 L182.10,230.0 L181.85,230.0 L181.60,230.0 L181.35,230.0 L181.10,230.0 L180.85,230.0 L180.60,230.0 L180.35,230.0 L180.10,214.0 L179.85,201.8 L179.60,202.5 L179.35,209.5 L179.10,224.3 L178.85,236.2 L178.60,236.2 L178.35,236.2 L178.10,236.2 L177.85,236.2 L177.60,236.2 L177.35,236.2 L177.10,236.2 L176.85,221.2 L176.60,228.2 L176.35,235.2 L176.10,250.0 L175.85,262.0 L175.60,262.0 L175.35,262.0 L175.10,262.0 L174.85,262.0 L174.60,262.0 L174.35,262.0 L174.10,262.0 L173.85,246.0 L173.60,233.8 L173.35,226.8 L173.10,225.0 L172.85,225.0 L172.60,225.0 L172.35,225.0 L172.10,225.0 L171.85,225.0 L171.60,231.8 L171.35,243.8 L171.10,243.8 L170.85,243.8 L170.60,243.8 L170.35,243.8 L170.10,243.8 L169.85,243.8 L169.60,243.8 L169.35,227.7 L169.10,219.3 L168.85,231.2 L168.60,231.2 L168.35,231.2 L168.10,231.2 L167.85,231.2 L167.60,231.2 L167.35,231.2 L167.10,231.2 L166.85,215.2 L166.60,203.0 L166.35,196.0 L166.10,189.3 L165.85,201.2 L165.60,201.2 L165.35,201.2 L165.10,201.2 L164.85,201.2 L164.60,201.2 L164.35,201.2 L164.10,201.2 L163.85,190.7 L163.60,205.5 L163.35,217.5 L163.10,217.5 L162.85,217.5 L162.60,217.5 L162.35,217.5 L162.10,217.5 L161.85,217.5 L161.60,217.5 L161.35,201.5 L161.10,189.3 L160.85,182.3 L160.60,175.7 L160.35,176.4 L160.10,177.3 L159.85,177.3 L159.60,188.8 L159.35,188.8 L159.10,188.8 L158.85,188.8 L158.60,188.8 L158.35,188.8 L158.10,188.8 L157.85,188.8 L157.60,184.5 L157.35,199.3 L157.10,211.2 L156.85,211.2 L156.60,211.2 L156.35,211.2 L156.10,211.2 L155.85,211.2 L155.60,211.2 L155.35,211.2 L155.10,195.2 L154.85,185.6 L154.60,185.6 L154.35,185.6 L154.10,185.6 L153.85,185.6 L153.60,185.6 L153.35,177.8 L153.10,183.0 L152.85,195.0 L152.60,195.0 L152.35,195.0 L152.10,195.0 L151.85,195.0 L151.60,195.0 L151.35,195.0 L151.10,195.0 L150.85,179.0 L150.60,177.0 L150.35,178.7 L150.10,185.7 L149.85,200.5 L149.60,212.5 L149.35,212.5 L149.10,212.5 L148.85,212.5 L148.60,212.5 L148.35,212.5 L148.10,218.0 L147.85,225.0 L147.60,232.0 L147.35,246.8 L147.10,258.8 L146.85,258.8 L146.60,258.8 L146.35,258.8 L146.10,258.8 L145.85,258.8 L145.60,258.8 L145.35,258.8 L145.10,248.2 L144.85,263.0 L144.60,275.0 L144.35,275.0 L144.10,275.0 L143.85,275.0 L143.60,275.0 L143.35,275.0 L143.10,275.0 L142.85,275.0 L142.60,259.0 L142.35,246.8 L142.10,239.8 L141.85,232.8 L141.60,225.8 L141.35,218.8 L141.10,211.8 L140.85,210.0 L140.60,210.0 L140.35,210.0 L140.10,210.0 L139.85,210.0 L139.60,210.0 L139.35,210.0 L139.10,210.0 L138.85,194.0 L138.60,181.8 L138.35,196.9 L138.10,196.9 L137.85,196.9 L137.60,196.9 L137.35,196.9 L137.10,196.9 L136.85,196.9 L136.60,196.9 L136.35,187.1 L136.10,175.4 L135.85,175.1 L135.60,176.0 L135.35,176.5 L135.10,177.4 L134.85,180.5 L134.60,192.5 L134.35,192.5 L134.10,192.5 L133.85,192.5 L133.60,192.5 L133.35,192.5 L133.10,192.5 L132.85,192.5 L132.60,178.5 L132.35,178.9 L132.10,187.0 L131.85,187.0 L131.60,187.0 L131.35,187.0 L131.10,187.0 L130.85,187.0 L130.60,187.0 L130.35,187.0 L130.10,179.4 L129.85,186.8 L129.60,198.8 L129.35,198.8 L129.10,198.8 L128.85,198.8 L128.60,198.8 L128.35,198.8 L128.10,198.8 L127.85,198.8 L127.60,182.7 L127.35,179.2 L127.10,186.2 L126.85,193.2 L126.60,208.0 L126.35,220.0 L126.10,220.0 L125.85,220.0 L125.60,220.0 L125.35,220.0 L125.10,220.0 L124.85,220.0 L124.60,220.0 L124.35,204.0 L124.10,191.8 L123.85,184.8 L123.60,198.0 L123.35,210.0 L123.10,210.0 L122.85,210.0 L122.60,210.0 L122.35,210.0 L122.10,210.0 L121.85,210.0 L121.60,210.0 L121.35,204.2 L121.10,211.2 L120.85,218.2 L120.60,233.0 L120.35,245.0 L120.10,245.0 L119.85,245.0 L119.60,245.0 L119.35,245.0 L119.10,245.0 L118.85,245.0 L118.60,245.0 L118.35,229.0 L118.10,216.8 L117.85,209.8 L117.60,202.8 L117.35,195.8 L117.10,196.2 L116.85,196.2 L116.60,196.2 L116.35,196.2 L116.10,196.2 L115.85,196.2 L115.60,196.2 L115.35,196.2 L115.10,180.2 L114.85,176.0 L114.60,176.1 L114.35,176.1 L114.10,181.2 L113.85,188.2 L113.60,203.0 L113.35,215.0 L113.10,215.0 L112.85,215.0 L112.60,215.0 L112.35,215.0 L112.10,215.0 L111.85,215.0 L111.60,215.0 L111.35,199.0 L111.10,186.8 L110.85,179.8 L110.60,177.5 L110.35,177.8 L110.10,177.7 L109.85,190.5 L109.60,202.5 L109.35,202.5 L109.10,202.5 L108.85,202.5 L108.60,202.5 L108.35,202.5 L108.10,202.5 L107.85,202.5 L107.60,194.5 L107.35,209.3 L107.10,221.2 L106.85,221.2 L106.60,221.2 L106.35,221.2 L106.10,221.2 L105.85,221.2 L105.60,221.2 L105.35,221.2 L105.10,205.2 L104.85,218.0 L104.60,230.0 L104.35,230.0 L104.10,230.0 L103.85,230.0 L103.60,230.0 L103.35,230.0 L103.10,230.0 L102.85,230.0 L102.60,226.2 L102.35,226.2 L102.10,226.2 L101.85,226.2 L101.60,226.2 L101.35,226.2 L101.10,226.2 L100.85,226.2 L100.60,210.2 L100.35,198.0 L100.10,191.0 L99.85,184.0 L99.60,177.4 L99.35,177.6 L99.10,177.6 L98.85,177.6 L98.60,178.0 L98.35,190.0 L98.10,190.0 L97.85,190.0 L97.60,190.0 L97.35,190.0 L97.10,190.0 L96.85,190.0 L96.60,190.0 L96.35,186.4 L96.10,186.4 L95.85,186.4 L95.60,186.4 L95.35,186.4 L95.10,186.4 L94.85,186.4 L94.60,186.4 L94.35,178.0 L94.10,178.1 L93.85,179.5 L93.60,194.3 L93.35,206.2 L93.10,206.2 L92.85,206.2 L92.60,206.2 L92.35,206.2 L92.10,206.2 L91.85,206.2 L91.60,206.2 L91.35,190.2 L91.10,178.0 L90.85,176.6 L90.60,176.3 L90.35,177.3 L90.10,180.7 L89.85,195.5 L89.60,207.5 L89.35,207.5 L89.10,207.5 L88.85,207.5 L88.60,207.5 L88.35,207.5 L88.10,207.5 L87.85,209.2 L87.60,216.2 L87.35,231.0 L87.10,243.0 L86.85,243.0 L86.60,243.0 L86.35,243.0 L86.10,243.0 L85.85,243.0 L85.60,243.0 L85.35,243.0 L85.10,227.0 L84.85,214.8 L84.60,210.0 L84.35,210.0 L84.10,210.0 L83.85,210.0 L83.60,210.0 L83.35,210.0 L83.10,210.0 L82.85,210.0 L82.60,194.0 L82.35,181.8 L82.10,178.5 L81.85,177.9 L81.60,178.8 L81.35,178.7 L81.10,179.3 L80.85,180.1 L80.60,179.8 L80.35,179.9 L80.10,179.2 L79.85,177.6 L79.60,177.9 L79.35,177.2 L79.10,175.9 L78.85,176.3 L78.60,176.5 L78.35,177.3 L78.10,177.5 L77.85,177.3 L77.60,176.6 L77.35,176.9 L77.10,176.1 L76.85,174.8 L76.60,173.8 L76.35,173.3 L76.10,172.4 L75.85,172.8 L75.60,172.9 L75.35,172.9 L75.10,172.9 L74.85,172.4 L74.60,172.0 L74.35,171.1 L74.10,169.9 L73.85,168.8 L73.60,167.4 L73.35,166.7 L73.10,178.0 L72.85,190.0 L72.60,190.0 L72.35,190.0 L72.10,190.0 L71.85,190.0 L71.60,190.0 L71.35,190.0 L71.10,190.0 L70.85,174.0 L70.60,161.8 Z" fill="#ff00ff" stroke="#ff00ff" stroke-width="0.8" stroke-linejoin="round"/>
<path d="M493.50,133.9 L493.69,135.5 L493.88,137.1 L494.08,138.7 L494.27,140.2 L494.46,141.8 L494.65,143.4 L494.85,145.0 L495.04,146.5 L495.23,148.1 L495.42,149.7 L495.62,151.3 L495.81,152.8 L496.00,154.4 L496.19,156.6 L496.38,158.7 L496.58,160.8 L496.77,162.9 L496.96,164.9 L497.15,166.9 L497.35,168.7 L497.54,170.5 L497.73,172.2 L497.92,173.8 L498.12,175.2 L498.31,176.6 L498.50,177.8 L498.69,176.6 L498.88,175.2 L499.08,173.8 L499.27,172.2 L499.46,170.5 L499.65,168.7 L499.85,166.9 L500.04,164.9 L500.23,162.9 L500.42,160.8 L500.62,158.7 L500.81,156.6 L501.00,154.4 L501.20,152.4 L501.40,150.4 L501.60,148.4 L501.80,146.4 L502.00,144.4 L502.20,142.4 L502.40,140.4 L502.60,138.4 L502.80,136.5 L503.00,134.5 L503.20,132.5 L503.40,130.5 L503.60,128.5 L503.80,126.5 L504.00,124.5 L504.20,122.5 L504.40,120.5 L504.59,122.3 L504.79,124.1 L504.98,125.9 L505.18,127.6 L505.37,129.4 L505.57,131.2 L505.76,133.0 L505.96,134.8 L506.15,136.6 L506.35,138.3 L506.54,140.1 L506.74,141.9 L506.93,143.7 L507.13,145.5 L507.32,147.3 L507.52,149.0 L507.71,150.8 L507.91,152.6 L508.10,154.4 L508.29,158.4 L508.48,162.4 L508.67,166.3 L508.86,170.1 L509.05,173.9 L509.24,177.6 L509.43,181.1 L509.61,184.5 L509.80,187.7 L509.99,190.8 L510.18,193.6 L510.37,196.3 L510.56,198.8 L510.75,201.1 L510.95,198.4 L511.14,195.4 L511.34,192.2 L511.53,188.8 L511.73,185.0 L511.93,181.1 L512.12,177.0 L512.32,172.7 L512.51,168.2 L512.71,163.7 L512.90,159.1 L513.10,154.4 L513.29,150.2 L513.49,146.0 L513.68,141.8 L513.87,137.6 L514.07,133.4 L514.26,129.2 L514.45,125.0 L514.65,120.8 L514.84,116.6 L515.03,112.4 L515.23,108.2 L515.42,104.0 L515.61,99.8 L515.81,95.6 L516.00,91.3 L516.19,94.7 L516.38,98.0 L516.57,101.3 L516.76,104.6 L516.95,107.9 L517.14,111.3 L517.33,114.6 L517.52,117.9 L517.71,121.2 L517.89,124.5 L518.08,127.9 L518.27,131.2 L518.46,134.5 L518.65,137.8 L518.84,141.1 L519.03,144.4 L519.22,147.8 L519.41,151.1 L519.60,154.4 L519.80,160.3 L519.99,166.1 L520.19,171.9 L520.39,177.6 L520.58,183.3 L520.78,188.8 L520.98,194.1 L521.17,199.3 L521.37,204.3 L521.57,209.1 L521.77,213.6 L521.96,218.0 L522.16,222.1 L522.36,225.9 L522.55,229.5 L522.75,232.8 L522.94,229.9 L523.14,226.7 L523.33,223.4 L523.53,219.8 L523.72,216.1 L523.92,212.1 L524.11,208.0 L524.31,203.7 L524.50,199.3 L524.69,194.7 L524.89,190.0 L525.08,185.1 L525.28,180.2 L525.47,175.1 L525.67,170.0 L525.86,164.8 L526.06,159.6 L526.25,154.4 L526.45,148.3 L526.64,142.2 L526.84,136.1 L527.04,130.0 L527.23,123.8 L527.43,117.7 L527.62,111.6 L527.82,105.5 L528.02,99.4 L528.21,93.3 L528.41,87.2 L528.61,81.1 L528.80,75.0 L529.00,68.8 L529.20,72.9 L529.39,77.0 L529.59,81.1 L529.78,85.1 L529.98,89.2 L530.17,93.3 L530.37,97.4 L530.56,101.4 L530.76,105.5 L530.95,109.6 L531.15,113.7 L531.34,117.7 L531.54,121.8 L531.73,125.9 L531.93,130.0 L532.12,134.0 L532.32,138.1 L532.51,142.2 L532.71,146.3 L532.90,150.3 L533.10,154.4 L533.29,161.8 L533.49,169.1 L533.68,176.4 L533.87,183.6 L534.07,190.6 L534.26,197.4 L534.45,204.1 L534.65,210.5 L534.84,216.6 L535.03,222.4 L535.23,228.0 L535.42,233.2 L535.61,238.1 L535.81,242.6 L536.00,246.8 L536.20,243.1 L536.40,239.2 L536.60,235.0 L536.80,230.5 L537.00,225.7 L537.20,220.8 L537.40,215.5 L537.60,210.1 L537.80,204.5 L538.00,198.6 L538.20,192.6 L538.40,186.5 L538.60,180.2 L538.80,173.8 L539.00,167.4 L539.20,160.9 L539.40,154.4 L539.59,148.5 L539.78,142.7 L539.97,136.8 L540.16,130.9 L540.35,125.1 L540.54,119.2 L540.73,113.3 L540.92,107.4 L541.11,101.6 L541.30,95.7 L541.49,89.8 L541.68,84.0 L541.87,78.1 L542.06,72.2 L542.25,66.3 L542.44,70.5 L542.63,74.7 L542.82,78.9 L543.01,83.1 L543.20,87.3 L543.39,91.5 L543.58,95.7 L543.77,99.9 L543.96,104.1 L544.15,108.3 L544.35,112.5 L544.54,116.7 L544.73,120.9 L544.92,125.0 L545.11,129.2 L545.30,133.4 L545.49,137.6 L545.68,141.8 L545.87,146.0 L546.06,150.2 L546.25,154.4 L546.44,161.3 L546.62,168.2 L546.81,175.0 L547.00,181.8 L547.19,188.4 L547.38,194.9 L547.56,201.2 L547.75,207.3 L547.94,213.2 L548.12,218.8 L548.31,224.2 L548.50,229.3 L548.69,234.1 L548.88,238.7 L549.06,242.9 L549.25,246.8 L549.44,243.1 L549.63,239.2 L549.82,235.0 L550.01,230.5 L550.21,225.7 L550.40,220.8 L550.59,215.5 L550.78,210.1 L550.97,204.5 L551.16,198.6 L551.35,192.6 L551.54,186.5 L551.74,180.2 L551.93,173.8 L552.12,167.4 L552.31,160.9 L552.50,154.4 L552.69,149.1 L552.88,143.8 L553.06,138.5 L553.25,133.1 L553.44,127.8 L553.62,122.5 L553.81,117.2 L554.00,111.9 L554.19,106.6 L554.38,101.2 L554.56,95.9 L554.75,90.6 L554.94,85.3 L555.12,80.0 L555.31,74.7 L555.50,69.3 L555.70,73.0 L555.89,76.7 L556.09,80.4 L556.28,84.1 L556.48,87.8 L556.67,91.5 L556.87,95.2 L557.07,98.9 L557.26,102.6 L557.46,106.3 L557.65,110.0 L557.85,113.7 L558.04,117.4 L558.24,121.1 L558.43,124.8 L558.63,128.5 L558.83,132.2 L559.02,135.9 L559.22,139.6 L559.41,143.3 L559.61,147.0 L559.80,150.7 L560.00,154.4 L560.19,161.7 L560.38,169.0 L560.56,176.2 L560.75,183.3 L560.94,190.3 L561.12,197.1 L561.31,203.7 L561.50,210.2 L561.69,216.4 L561.88,222.3 L562.06,228.0 L562.25,233.4 L562.44,238.5 L562.62,243.2 L562.81,247.7 L563.00,251.8 L563.19,247.9 L563.38,243.8 L563.57,239.3 L563.76,234.6 L563.96,229.6 L564.15,224.3 L564.34,218.8 L564.53,213.1 L564.72,207.2 L564.91,201.0 L565.10,194.7 L565.29,188.2 L565.49,181.6 L565.68,174.9 L565.87,168.1 L566.06,161.3 L566.25,154.4 L566.44,149.6 L566.63,144.7 L566.82,139.9 L567.01,135.1 L567.21,130.3 L567.40,125.4 L567.59,120.6 L567.78,115.8 L567.97,111.0 L568.16,106.1 L568.35,101.3 L568.54,96.5 L568.74,91.7 L568.93,86.8 L569.12,82.0 L569.31,77.2 L569.50,72.3 L569.69,76.7 L569.88,81.0 L570.07,85.3 L570.26,89.6 L570.45,93.9 L570.64,98.3 L570.83,102.6 L571.02,106.9 L571.21,111.2 L571.39,115.5 L571.58,119.9 L571.77,124.2 L571.96,128.5 L572.15,132.8 L572.34,137.1 L572.53,141.4 L572.72,145.8 L572.91,150.1 L573.10,154.4 L573.29,161.5 L573.48,168.6 L573.68,175.6 L573.87,182.6 L574.06,189.4 L574.25,196.2 L574.44,202.8 L574.64,209.3 L574.83,215.7 L575.02,221.8 L575.21,227.7 L575.41,233.5 L575.60,239.0 L575.79,244.3 L575.98,249.3 L576.17,254.1 L576.37,258.6 L576.56,262.8 L576.75,266.8 L576.94,262.3 L577.13,257.5 L577.32,252.4 L577.51,247.0 L577.71,241.2 L577.90,235.1 L578.09,228.8 L578.28,222.2 L578.47,215.3 L578.66,208.2 L578.85,200.9 L579.04,193.4 L579.24,185.8 L579.43,178.1 L579.62,170.2 L579.81,162.3 L580.00,154.4 L580.19,149.0 L580.38,143.6 L580.56,138.3 L580.75,132.9 L580.94,127.5 L581.12,122.1 L581.31,116.8 L581.50,111.4 L581.69,106.0 L581.88,100.6 L582.06,95.2 L582.25,89.9 L582.44,84.5 L582.62,79.1 L582.81,73.7 L583.00,68.3 L583.20,72.7 L583.39,77.0 L583.59,81.3 L583.78,85.6 L583.98,89.9 L584.17,94.2 L584.37,98.5 L584.56,102.8 L584.75,107.1 L584.95,111.4 L585.14,115.7 L585.34,120.0 L585.53,124.3 L585.73,128.6 L585.92,132.9 L586.12,137.2 L586.31,141.5 L586.51,145.8 L586.70,150.1 L586.90,154.4 L587.09,161.2 L587.28,167.9 L587.47,174.7 L587.66,181.3 L587.85,187.9 L588.04,194.3 L588.23,200.7 L588.42,206.9 L588.61,212.9 L588.79,218.8 L588.98,224.5 L589.17,230.0 L589.36,235.2 L589.55,240.3 L589.74,245.1 L589.93,249.6 L590.12,253.9 L590.31,258.0 L590.50,261.8 L590.69,257.5 L590.88,252.9 L591.07,248.0 L591.26,242.8 L591.46,237.3 L591.65,231.5 L591.84,225.5 L592.03,219.1 L592.22,212.6 L592.41,205.8 L592.60,198.8 L592.79,191.7 L592.99,184.4 L593.18,177.0 L593.37,169.5 L593.56,162.0 L593.75,154.4 L593.95,148.8 L594.14,143.1 L594.34,137.5 L594.54,131.9 L594.73,126.3 L594.93,120.6 L595.12,115.0 L595.32,109.4 L595.52,103.7 L595.71,98.1 L595.91,92.5 L596.11,86.9 L596.30,81.2 L596.50,75.6 L596.70,79.4 L596.89,83.1 L597.09,86.9 L597.28,90.6 L597.48,94.4 L597.67,98.1 L597.87,101.9 L598.06,105.6 L598.26,109.4 L598.45,113.1 L598.65,116.9 L598.84,120.6 L599.04,124.4 L599.23,128.1 L599.43,131.9 L599.62,135.6 L599.82,139.4 L600.01,143.1 L600.21,146.9 L600.40,150.6 L600.60,154.4 L600.79,161.4 L600.98,168.5 L601.18,175.5 L601.37,182.4 L601.56,189.2 L601.75,195.9 L601.94,202.5 L602.14,209.0 L602.33,215.2 L602.52,221.3 L602.71,227.3 L602.91,232.9 L603.10,238.4 L603.29,243.7 L603.48,248.7 L603.67,253.4 L603.87,257.9 L604.06,262.1 L604.25,266.1 L604.44,260.6 L604.63,254.7 L604.82,248.3 L605.01,241.4 L605.20,234.1 L605.39,226.4 L605.58,218.3 L605.76,209.9 L605.95,201.1 L606.14,192.1 L606.33,182.9 L606.52,173.5 L606.71,164.0 L606.90,154.4 L607.10,149.2 L607.29,144.0 L607.49,138.7 L607.69,133.5 L607.89,128.3 L608.08,123.1 L608.28,117.8 L608.48,112.6 L608.67,107.4 L608.87,102.2 L609.07,96.9 L609.26,91.7 L609.46,86.5 L609.66,81.3 L609.86,76.0 L610.05,70.8 L610.25,65.6 L610.45,69.8 L610.65,74.1 L610.84,78.3 L611.04,82.5 L611.24,86.7 L611.44,91.0 L611.63,95.2 L611.83,99.4 L612.03,103.7 L612.23,107.9 L612.42,112.1 L612.62,116.3 L612.82,120.6 L613.02,124.8 L613.21,129.0 L613.41,133.3 L613.61,137.5 L613.81,141.7 L614.00,145.9 L614.20,150.2 L614.40,154.4 L614.59,160.7 L614.78,166.9 L614.98,173.1 L615.17,179.3 L615.36,185.3 L615.55,191.3 L615.75,197.2 L615.94,203.0 L616.13,208.7 L616.33,214.2 L616.52,219.5 L616.71,224.7 L616.90,229.7 L617.10,234.5 L617.29,239.1 L617.48,243.4 L617.67,247.6 L617.87,251.6 L618.06,255.3 L618.25,258.8 L618.45,252.8 L618.64,246.2 L618.84,239.1 L619.03,231.3 L619.23,223.0 L619.42,214.2 L619.62,204.9 L619.82,195.3 L620.01,185.3 L620.21,175.2 L620.40,164.8 L620.60,154.4 L620.80,149.3 L621.00,144.2 L621.20,139.0 L621.40,133.9 L621.60,128.8 L621.80,123.7 L622.00,118.6 L622.20,113.4 L622.40,108.3 L622.60,103.2 L622.80,98.1 L623.00,93.0 L623.20,87.8 L623.40,82.7 L623.60,77.6 L623.80,72.5 L624.00,67.3 L624.20,71.0 L624.40,74.6 L624.59,78.2 L624.79,81.9 L624.99,85.5 L625.19,89.1 L625.39,92.7 L625.58,96.4 L625.78,100.0 L625.98,103.6 L626.18,107.2 L626.38,110.9 L626.57,114.5 L626.77,118.1 L626.97,121.8 L627.17,125.4 L627.36,129.0 L627.56,132.6 L627.76,136.3 L627.96,139.9 L628.16,143.5 L628.35,147.1 L628.55,150.8 L628.75,154.4 L628.95,161.2 L629.14,167.9 L629.34,174.7 L629.54,181.3 L629.74,187.9 L629.93,194.3 L630.13,200.7 L630.33,206.9 L630.53,212.9 L630.72,218.8 L630.92,224.5 L631.12,230.0 L631.32,235.2 L631.51,240.3 L631.71,245.1 L631.91,249.6 L632.11,253.9 L632.30,258.0 L632.50,261.8 L632.69,256.2 L632.88,250.0 L633.08,243.2 L633.27,236.0 L633.46,228.3 L633.65,220.1 L633.85,211.5 L634.04,202.6 L634.23,193.3 L634.42,183.8 L634.62,174.1 L634.81,164.3 L635.00,154.4 L635.19,149.7 L635.38,145.0 L635.57,140.4 L635.76,135.7 L635.96,131.0 L636.15,126.3 L636.34,121.6 L636.53,117.0 L636.72,112.3 L636.91,107.6 L637.10,102.9 L637.29,98.2 L637.49,93.6 L637.68,88.9 L637.87,84.2 L638.06,79.5 L638.25,74.8 L638.44,78.5 L638.64,82.1 L638.83,85.7 L639.02,89.3 L639.22,92.9 L639.41,96.5 L639.60,100.2 L639.80,103.8 L639.99,107.4 L640.18,111.0 L640.38,114.6 L640.57,118.2 L640.76,121.9 L640.95,125.5 L641.15,129.1 L641.34,132.7 L641.53,136.3 L641.73,139.9 L641.92,143.6 L642.11,147.2 L642.31,150.8 L642.50,154.4 L642.69,161.6 L642.89,168.7 L643.08,175.8 L643.28,182.8 L643.47,189.7 L643.67,196.5 L643.86,203.1 L644.06,209.6 L644.25,215.9 L644.44,222.0 L644.64,227.9 L644.83,233.5 L645.03,238.9 L645.22,244.0 L645.42,248.9 L645.61,253.5 L645.81,257.8 L646.00,261.8 L646.20,256.6 L646.39,250.9 L646.59,244.7 L646.79,238.1 L646.98,231.1 L647.18,223.7 L647.38,215.9 L647.57,207.8 L647.77,199.3 L647.96,190.7 L648.16,181.8 L648.36,172.7 L648.55,163.6 L648.75,154.4 L648.94,149.7 L649.14,145.1 L649.33,140.4 L649.53,135.8 L649.72,131.2 L649.92,126.6 L650.11,122.1 L650.31,117.5 L650.50,113.1 L650.69,108.6 L650.89,104.3 L651.08,99.9 L651.28,95.6 L651.47,91.4 L651.67,87.2 L651.86,83.1 L652.06,79.1 L652.25,75.1 L652.44,77.8 L652.64,80.4 L652.83,83.1 L653.03,85.9 L653.22,88.6 L653.42,91.4 L653.61,94.2 L653.81,97.1 L654.00,99.9 L654.19,102.8 L654.39,105.7 L654.58,108.6 L654.78,111.6 L654.97,114.6 L655.17,117.5 L655.36,120.6 L655.56,123.6 L655.75,126.6 L655.94,129.7 L656.14,132.7 L656.33,135.8 L656.53,138.9 L656.72,142.0 L656.92,145.1 L657.11,148.2 L657.31,151.3 L657.50,154.4 L657.69,162.3 L657.88,170.2 L658.06,178.0 L658.25,185.6 L658.44,193.2 L658.62,200.6 L658.81,207.8 L659.00,214.7 L659.19,221.5 L659.38,227.9 L659.56,234.0 L659.75,239.9 L659.94,245.4 L660.12,250.5 L660.31,255.3 L660.50,259.8 L660.69,254.7 L660.87,249.1 L661.06,243.0 L661.24,236.6 L661.43,229.7 L661.61,222.4 L661.80,214.7 L661.99,206.8 L662.17,198.5 L662.36,190.0 L662.54,181.3 L662.73,172.4 L662.91,163.4 L663.10,154.4 L663.29,149.9 L663.48,145.5 L663.68,141.0 L663.87,136.6 L664.06,132.2 L664.25,127.9 L664.44,123.6 L664.64,119.4 L664.83,115.3 L665.02,111.2 L665.21,107.2 L665.41,103.3 L665.60,99.5 L665.79,95.8 L665.98,92.2 L666.17,88.8 L666.37,85.4 L666.56,82.1 L666.75,79.0 L666.95,81.2 L667.15,83.5 L667.34,85.8 L667.54,88.1 L667.74,90.6 L667.94,93.0 L668.14,95.6 L668.34,98.1 L668.53,100.8 L668.73,103.5 L668.93,106.2 L669.13,109.0 L669.33,111.8 L669.52,114.7 L669.72,117.6 L669.92,120.5 L670.12,123.5 L670.32,126.5 L670.51,129.5 L670.71,132.6 L670.91,135.6 L671.11,138.7 L671.31,141.8 L671.51,145.0 L671.70,148.1 L671.90,151.3 L672.10,154.4 L672.29,163.5 L672.49,172.5 L672.68,181.4 L672.87,190.2 L673.07,198.8 L673.26,207.2 L673.45,215.4 L673.65,223.2 L673.84,230.7 L674.03,237.9 L674.23,244.7 L674.42,251.1 L674.61,257.1 L674.81,262.7 L675.00,267.8 L675.19,263.0 L675.39,257.8 L675.58,252.3 L675.77,246.4 L675.97,240.1 L676.16,233.5 L676.36,226.5 L676.55,219.3 L676.74,211.8 L676.94,204.1 L677.13,196.1 L677.33,188.0 L677.52,179.7 L677.71,171.4 L677.91,162.9 L678.10,154.4 L678.29,150.0 L678.48,145.6 L678.68,141.3 L678.87,137.0 L679.06,132.7 L679.25,128.5 L679.44,124.4 L679.64,120.4 L679.83,116.5 L680.02,112.7 L680.21,109.0 L680.41,105.4 L680.60,102.0 L680.79,98.7 L680.98,95.6 L681.17,92.7 L681.37,89.9 L681.56,87.2 L681.75,84.8 L681.95,86.5 L682.15,88.4 L682.34,90.4 L682.54,92.4 L682.74,94.6 L682.94,96.8 L683.14,99.1 L683.33,101.5 L683.53,104.0 L683.73,106.5 L683.93,109.1 L684.13,111.8 L684.33,114.6 L684.52,117.4 L684.72,120.2 L684.92,123.2 L685.12,126.1 L685.32,129.2 L685.51,132.2 L685.71,135.3 L685.91,138.5 L686.11,141.6 L686.31,144.8 L686.50,148.0 L686.70,151.2 L686.90,154.4 L687.09,164.2 L687.27,173.9 L687.46,183.5 L687.64,192.9 L687.83,202.2 L688.01,211.1 L688.20,219.7 L688.39,228.0 L688.57,235.9 L688.76,243.4 L688.94,250.4 L689.13,256.9 L689.31,263.0 L689.50,268.6 L689.69,264.5 L689.88,260.2 L690.07,255.6 L690.26,250.8 L690.45,245.7 L690.64,240.3 L690.83,234.7 L691.02,228.9 L691.21,222.8 L691.39,216.6 L691.58,210.2 L691.77,203.6 L691.96,196.8 L692.15,190.0 L692.34,183.0 L692.53,175.9 L692.72,168.8 L692.91,161.6 L693.10,154.4 L693.29,149.6 L693.48,144.8 L693.68,140.1 L693.87,135.4 L694.06,130.9 L694.25,126.3 L694.44,122.0 L694.64,117.7 L694.83,113.6 L695.02,109.6 L695.21,105.8 L695.41,102.2 L695.60,98.8 L695.79,95.5 L695.98,92.5 L696.17,89.7 L696.37,87.2 L696.56,84.9 L696.75,82.8 L696.94,84.3 L697.14,86.0 L697.33,87.9 L697.53,89.9 L697.72,92.0 L697.91,94.2 L698.11,96.5 L698.30,99.0 L698.50,101.6 L698.69,104.3 L698.88,107.1 L699.08,110.1 L699.27,113.1 L699.47,116.2 L699.66,119.4 L699.85,122.6 L700.05,126.0 L700.24,129.4 L700.44,132.9 L700.63,136.4 L700.82,139.9 L701.02,143.5 L701.21,147.1 L701.41,150.8 L701.60,154.4 L701.79,163.4 L701.99,172.4 L702.18,181.3 L702.37,190.0 L702.57,198.6 L702.76,207.0 L702.95,215.1 L703.15,222.9 L703.34,230.4 L703.53,237.5 L703.73,244.3 L703.92,250.7 L704.11,256.7 L704.31,262.2 L704.50,267.3 L704.69,262.8 L704.89,258.0 L705.08,252.8 L705.28,247.4 L705.47,241.6 L705.66,235.5 L705.86,229.1 L706.05,222.5 L706.25,215.6 L706.44,208.4 L706.64,201.1 L706.83,193.6 L707.02,185.9 L707.22,178.2 L707.41,170.3 L707.61,162.4 L707.80,154.4 L707.99,148.8 L708.18,143.3 L708.38,137.8 L708.57,132.4 L708.76,127.1 L708.95,121.9 L709.14,116.9 L709.33,112.1 L709.52,107.4 L709.72,102.9 L709.91,98.7 L710.10,94.7 L710.29,91.0 L710.48,87.5 L710.67,84.3 L710.87,81.4 L711.06,78.8 L711.25,76.5 L711.45,78.0 L711.65,79.6 L711.84,81.4 L712.04,83.3 L712.24,85.3 L712.44,87.5 L712.64,89.8 L712.84,92.2 L713.03,94.7 L713.23,97.3 L713.43,100.1 L713.63,102.9 L713.83,105.9 L714.02,108.9 L714.22,112.1 L714.42,115.3 L714.62,118.6 L714.82,121.9 L715.01,125.4 L715.21,128.9 L715.41,132.4 L715.61,136.0 L715.81,139.6 L716.01,143.3 L716.20,147.0 L716.40,150.7 L716.60,154.4 L716.79,163.5 L716.99,172.6 L717.18,181.6 L717.37,190.4 L717.57,199.1 L717.76,207.6 L717.95,215.8 L718.15,223.7 L718.34,231.2 L718.53,238.5 L718.73,245.3 L718.92,251.8 L719.11,257.8 L719.31,263.4 L719.50,268.6 L719.69,264.0 L719.89,259.1 L720.08,253.9 L720.28,248.4 L720.47,242.5 L720.66,236.4 L720.86,229.9 L721.05,223.2 L721.25,216.2 L721.44,209.0 L721.64,201.6 L721.83,194.0 L722.02,186.3 L722.22,178.4 L722.41,170.5 L722.61,162.5 L722.80,154.4 L723.00,149.4 L723.19,144.5 L723.39,139.6 L723.59,134.7 L723.79,129.9 L723.99,125.2 L724.18,120.6 L724.38,116.2 L724.58,111.9 L724.77,107.7 L724.97,103.7 L725.17,99.9 L725.37,96.2 L725.56,92.8 L725.76,89.6 L725.96,86.6 L726.16,83.9 L726.36,81.3 L726.55,79.1 L726.75,77.0 L726.94,78.7 L727.14,80.6 L727.33,82.6 L727.52,84.8 L727.72,87.1 L727.91,89.6 L728.11,92.3 L728.30,95.1 L728.49,98.0 L728.69,101.1 L728.88,104.3 L729.08,107.7 L729.27,111.1 L729.46,114.7 L729.66,118.4 L729.85,122.2 L730.04,126.0 L730.24,129.9 L730.43,133.9 L730.62,137.9 L730.82,142.0 L731.01,146.1 L731.21,150.3 L731.40,154.4 L731.60,162.8 L731.79,171.2 L731.99,179.5 L732.19,187.8 L732.39,195.9 L732.58,203.8 L732.78,211.5 L732.98,219.1 L733.17,226.4 L733.37,233.4 L733.57,240.1 L733.76,246.6 L733.96,252.7 L734.16,258.5 L734.36,264.0 L734.55,269.1 L734.75,273.8 L734.94,268.7 L735.13,263.3 L735.32,257.4 L735.51,251.2 L735.70,244.6 L735.89,237.7 L736.08,230.4 L736.27,222.8 L736.47,214.9 L736.66,206.7 L736.85,198.4 L737.04,189.8 L737.23,181.1 L737.42,172.3 L737.61,163.3 L737.80,154.4 L737.99,149.8 L738.18,145.3 L738.37,140.7 L738.56,136.2 L738.75,131.8 L738.95,127.4 L739.14,123.1 L739.33,119.0 L739.52,114.9 L739.71,110.9 L739.90,107.1 L740.09,103.4 L740.28,99.9 L740.47,96.5 L740.66,93.3 L740.85,90.2 L741.05,87.4 L741.24,84.7 L741.43,82.2 L741.62,80.0 L741.81,77.9 L742.00,76.0 L742.20,77.6 L742.39,79.4 L742.59,81.4 L742.78,83.5 L742.98,85.8 L743.18,88.2 L743.37,90.7 L743.57,93.4 L743.76,96.2 L743.96,99.2 L744.16,102.2 L744.35,105.4 L744.55,108.7 L744.74,112.2 L744.94,115.7 L745.14,119.3 L745.33,123.0 L745.53,126.7 L745.72,130.6 L745.92,134.4 L746.12,138.4 L746.31,142.4 L746.51,146.4 L746.70,150.4 L746.90,154.4 L747.10,163.3 L747.29,172.2 L747.49,181.0 L747.69,189.6 L747.89,198.2 L748.08,206.6 L748.28,214.8 L748.48,222.7 L748.67,230.4 L748.87,237.9 L749.07,245.0 L749.26,251.8 L749.46,258.3 L749.66,264.4 L749.86,270.2 L750.05,275.5 L750.25,280.6 L750.45,275.2 L750.64,269.5 L750.84,263.3 L751.04,256.7 L751.23,249.7 L751.43,242.4 L751.63,234.7 L751.83,226.6 L752.02,218.3 L752.22,209.7 L752.42,200.8 L752.61,191.8 L752.81,182.6 L753.01,173.3 L753.20,163.9 L753.40,154.4 L753.60,148.3 L753.79,142.3 L753.99,136.3 L754.19,130.4 L754.39,124.7 L754.58,119.0 L754.78,113.6 L754.98,108.4 L755.17,103.4 L755.37,98.7 L755.57,94.2 L755.76,90.0 L755.96,86.2 L756.16,82.6 L756.36,79.4 L756.55,76.5 L756.75,74.0 L756.95,75.6 L757.15,77.2 L757.34,79.1 L757.54,81.0 L757.74,83.1 L757.94,85.4 L758.14,87.7 L758.34,90.2 L758.53,92.8 L758.73,95.5 L758.93,98.3 L759.13,101.3 L759.33,104.3 L759.52,107.5 L759.72,110.7 L759.92,114.0 L760.12,117.4 L760.32,120.9 L760.51,124.4 L760.71,128.1 L760.91,131.7 L761.11,135.4 L761.31,139.2 L761.51,143.0 L761.70,146.8 L761.90,150.6 L762.10,154.4 L762.30,163.6 L762.50,172.7 L762.70,181.7 L762.90,190.7 L763.10,199.5 L763.30,208.1 L763.50,216.6 L763.70,224.8 L763.90,232.7 L764.10,240.3 L764.30,247.7 L764.50,254.7 L764.70,261.4 L764.90,267.7 L765.10,273.6 L765.30,279.1 L765.50,284.3 L765.69,278.4 L765.89,272.0 L766.08,265.2 L766.27,257.9 L766.47,250.1 L766.66,241.8 L766.85,233.2 L767.05,224.2 L767.24,214.9 L767.43,205.3 L767.63,195.4 L767.82,185.3 L768.01,175.1 L768.21,164.8 L768.40,154.4 L768.59,148.4 L768.78,142.4 L768.97,136.4 L769.16,130.5 L769.35,124.8 L769.54,119.1 L769.73,113.6 L769.92,108.3 L770.11,103.1 L770.29,98.1 L770.48,93.4 L770.67,88.9 L770.86,84.7 L771.05,80.7 L771.24,77.0 L771.43,73.7 L771.62,70.6 L771.81,67.7 L772.00,65.2 L772.19,67.0 L772.38,69.0 L772.58,71.1 L772.77,73.4 L772.96,75.8 L773.15,78.4 L773.35,81.2 L773.54,84.1 L773.73,87.1 L773.92,90.3 L774.12,93.6 L774.31,97.0 L774.50,100.6 L774.69,104.3 L774.88,108.1 L775.08,111.9 L775.27,115.9 L775.46,120.0 L775.65,124.1 L775.85,128.3 L776.04,132.6 L776.23,136.9 L776.42,141.2 L776.62,145.6 L776.81,150.0 L777.00,154.4 L777.20,163.1 L777.39,171.8 L777.59,180.5 L777.79,189.1 L777.99,197.5 L778.18,205.9 L778.38,214.0 L778.58,222.0 L778.78,229.8 L778.97,237.4 L779.17,244.7 L779.37,251.8 L779.57,258.6 L779.76,265.0 L779.96,271.2 L780.16,277.1 L780.36,282.7 L780.55,287.9 L780.75,292.8 L780.94,286.9 L781.12,280.6 L781.31,273.8 L781.50,266.6 L781.69,259.0 L781.88,250.9 L782.06,242.4 L782.25,233.6 L782.44,224.5 L782.62,215.0 L782.81,205.3 L783.00,195.4 L783.19,185.3 L783.38,175.1 L783.56,164.8 L783.75,154.4 L783.94,147.7 L784.14,141.0 L784.33,134.4 L784.53,127.8 L784.72,121.4 L784.92,115.2 L785.11,109.1 L785.31,103.2 L785.50,97.6 L785.69,92.2 L785.89,87.1 L786.08,82.2 L786.28,77.7 L786.47,73.6 L786.67,69.7 L786.86,66.2 L787.06,63.0 L787.25,60.2 L787.44,62.1 L787.64,64.1 L787.83,66.2 L788.03,68.5 L788.22,70.9 L788.42,73.6 L788.61,76.3 L788.81,79.2 L789.00,82.2 L789.19,85.4 L789.39,88.7 L789.58,92.2 L789.78,95.7 L789.97,99.4 L790.17,103.2 L790.36,107.1 L790.56,111.1 L790.75,115.2 L790.94,119.3 L791.14,123.5 L791.33,127.8 L791.53,132.2 L791.72,136.6 L791.92,141.0 L792.11,145.4 L792.31,149.9 L792.50,154.4 L792.70,161.6 L792.89,168.7 L793.09,175.8 L793.28,182.9 L793.48,189.9 L793.67,196.9 L793.87,203.7 L794.07,210.5 L794.26,217.1 L794.46,223.6 L794.65,229.9 L794.85,236.1 L795.04,242.2 L795.24,248.1 L795.43,253.7 L795.63,259.2 L795.83,264.5 L796.02,269.6 L796.22,274.5 L796.41,279.1 L796.61,283.6 L796.80,287.8 L797.00,291.8 L797.20,283.9 L797.40,275.3 L797.60,265.8 L797.80,255.6 L798.00,244.6 L798.20,233.1 L798.40,220.9 L798.60,208.2 L798.80,195.1 L799.00,181.7 L799.20,168.1 L799.40,154.4 L799.59,146.4 L799.79,138.4 L799.98,130.5 L800.17,122.8 L800.37,115.2 L800.56,107.9 L800.76,100.9 L800.95,94.1 L801.14,87.7 L801.34,81.6 L801.53,76.0 L801.73,70.8 L801.92,66.0 L802.11,61.7 L802.31,57.9 L802.50,54.5 L802.69,56.3 L802.89,58.2 L803.08,60.3 L803.27,62.6 L803.47,64.9 L803.66,67.4 L803.85,70.1 L804.04,72.9 L804.24,75.8 L804.43,78.9 L804.62,82.1 L804.82,85.4 L805.01,88.8 L805.20,92.3 L805.40,95.9 L805.59,99.7 L805.78,103.5 L805.98,107.4 L806.17,111.4 L806.36,115.5 L806.56,119.6 L806.75,123.9 L806.94,128.1 L807.13,132.4 L807.33,136.8 L807.52,141.2 L807.71,145.6 L807.91,150.0 L808.10,154.4 L808.30,161.8 L808.50,169.3 L808.69,176.7 L808.89,184.0 L809.09,191.3 L809.29,198.4 L809.48,205.5 L809.68,212.4 L809.88,219.2 L810.08,225.8 L810.27,232.3 L810.47,238.5 L810.67,244.6 L810.87,250.4 L811.06,256.1 L811.26,261.5 L811.46,266.6 L811.66,271.5 L811.85,276.2 L812.05,280.6 L812.25,284.8 L812.45,278.5 L812.64,271.5 L812.84,264.1 L813.04,256.1 L813.23,247.5 L813.43,238.5 L813.62,229.1 L813.82,219.2 L814.02,209.0 L814.21,198.4 L814.41,187.6 L814.61,176.7 L814.80,165.6 L815.00,154.4 L815.19,147.1 L815.39,139.9 L815.58,132.8 L815.78,125.7 L815.97,118.8 L816.17,112.0 L816.36,105.5 L816.56,99.1 L816.75,93.0 L816.94,87.2 L817.14,81.7 L817.33,76.5 L817.53,71.6 L817.72,67.1 L817.92,63.0 L818.11,59.2 L818.31,55.8 L818.50,52.8 L818.69,54.7 L818.89,56.9 L819.08,59.2 L819.28,61.6 L819.47,64.3 L819.67,67.1 L819.86,70.1 L820.06,73.2 L820.25,76.5 L820.44,79.9 L820.64,83.5 L820.83,87.2 L821.03,91.1 L821.22,95.1 L821.42,99.1 L821.61,103.3 L821.81,107.6 L822.00,112.0 L822.19,116.5 L822.39,121.1 L822.58,125.7 L822.78,130.4 L822.97,135.1 L823.17,139.9 L823.36,144.7 L823.56,149.6 L823.75,154.4 L823.94,161.0 L824.14,167.6 L824.33,174.2 L824.52,180.7 L824.72,187.1 L824.91,193.5 L825.10,199.8 L825.30,206.0 L825.49,212.0 L825.68,218.0 L825.88,223.8 L826.07,229.4 L826.26,234.9 L826.45,240.2 L826.65,245.3 L826.84,250.2 L827.03,255.0 L827.23,259.5 L827.42,263.8 L827.61,268.0 L827.81,271.9 L828.00,275.6 L828.19,269.7 L828.37,263.2 L828.56,256.3 L828.74,248.9 L828.93,240.9 L829.11,232.6 L829.30,223.8 L829.49,214.6 L829.67,205.1 L829.86,195.3 L830.04,185.3 L830.23,175.1 L830.41,164.8 L830.60,154.4 L830.79,147.7 L830.98,141.1 L831.18,134.6 L831.37,128.1 L831.56,121.7 L831.75,115.4 L831.94,109.4 L832.14,103.5 L832.33,97.8 L832.52,92.3 L832.71,87.1 L832.91,82.1 L833.10,77.5 L833.29,73.1 L833.48,69.0 L833.67,65.3 L833.87,61.8 L834.06,58.8 L834.25,56.0 L834.45,58.0 L834.65,60.1 L834.84,62.5 L835.04,65.0 L835.24,67.7 L835.44,70.6 L835.64,73.6 L835.83,76.8 L836.03,80.1 L836.23,83.6 L836.43,87.3 L836.63,91.1 L836.83,95.0 L837.02,99.1 L837.22,103.2 L837.42,107.5 L837.62,111.9 L837.82,116.4 L838.01,121.0 L838.21,125.6 L838.41,130.3 L838.61,135.1 L838.81,139.9 L839.00,144.7 L839.20,149.5 L839.40,154.4 L839.60,160.1 L839.80,165.9 L839.99,171.6 L840.19,177.2 L840.39,182.9 L840.59,188.4 L840.78,193.9 L840.98,199.3 L841.18,204.5 L841.38,209.7 L841.58,214.7 L841.77,219.6 L841.97,224.4 L842.17,229.0 L842.37,233.5 L842.56,237.8 L842.76,241.9 L842.96,245.8 L843.16,249.6 L843.35,253.2 L843.55,256.6 L843.75,259.8 L843.95,255.3 L844.14,250.5 L844.34,245.4 L844.54,239.9 L844.73,234.0 L844.93,227.9 L845.13,221.5 L845.33,214.7 L845.52,207.8 L845.72,200.6 L845.92,193.2 L846.11,185.6 L846.31,178.0 L846.51,170.2 L846.70,162.3 L846.90,154.4 L847.09,148.0 L847.28,141.7 L847.47,135.4 L847.66,129.2 L847.85,123.1 L848.04,117.1 L848.23,111.3 L848.42,105.7 L848.61,100.2 L848.79,95.0 L848.98,90.0 L849.17,85.3 L849.36,80.8 L849.55,76.6 L849.74,72.7 L849.93,69.1 L850.12,65.8 L850.31,62.9 L850.50,60.2 L850.70,62.4 L850.89,64.8 L851.09,67.4 L851.28,70.2 L851.48,73.2 L851.67,76.4 L851.87,79.9 L852.07,83.5 L852.26,87.3 L852.46,91.3 L852.65,95.4 L852.85,99.8 L853.04,104.2 L853.24,108.8 L853.43,113.6 L853.63,118.4 L853.83,123.4 L854.02,128.4 L854.22,133.5 L854.41,138.7 L854.61,143.9 L854.80,149.1 L855.00,154.4 L855.19,158.4 L855.38,162.5 L855.58,166.5 L855.77,170.5 L855.96,174.4 L856.15,178.4 L856.35,182.2 L856.54,186.1 L856.73,189.9 L856.92,193.6 L857.12,197.3 L857.31,200.9 L857.50,204.4 L857.69,207.9 L857.88,211.3 L858.08,214.5 L858.27,217.7 L858.46,220.8 L858.65,223.8 L858.85,226.7 L859.04,229.5 L859.23,232.2 L859.42,234.7 L859.62,237.2 L859.81,239.6 L860.00,241.8 L860.19,238.1 L860.39,234.1 L860.58,229.8 L860.77,225.3 L860.97,220.4 L861.16,215.3 L861.36,210.0 L861.55,204.4 L861.74,198.7 L861.94,192.7 L862.13,186.6 L862.33,180.3 L862.52,173.9 L862.71,167.5 L862.91,160.9 L863.10,154.4 L863.29,148.7 L863.48,143.0 L863.68,137.3 L863.87,131.7 L864.06,126.3 L864.25,120.9 L864.44,115.7 L864.64,110.6 L864.83,105.7 L865.02,101.0 L865.21,96.5 L865.41,92.2 L865.60,88.2 L865.79,84.5 L865.98,81.0 L866.17,77.7 L866.37,74.8 L866.56,72.1 L866.75,69.8 L866.95,71.7 L867.14,73.8 L867.34,76.2 L867.53,78.7 L867.73,81.4 L867.92,84.3 L868.12,87.4 L868.32,90.6 L868.51,94.1 L868.71,97.6 L868.90,101.4 L869.10,105.3 L869.29,109.3 L869.49,113.4 L869.68,117.7 L869.88,122.0 L870.08,126.5 L870.27,131.0 L870.47,135.6 L870.66,140.3 L870.86,145.0 L871.05,149.7 L871.25,154.4 L871.44,157.0 L871.64,159.6 L871.83,162.2 L872.02,164.8 L872.22,167.4 L872.41,169.9 L872.60,172.5 L872.80,175.0 L872.99,177.5 L873.19,180.0 L873.38,182.4 L873.57,184.8 L873.77,187.2 L873.96,189.6 L874.15,191.9 L874.35,194.1 L874.54,196.3 L874.73,198.5 L874.93,200.6 L875.12,202.7 L875.31,204.7 L875.51,206.7 L875.70,208.6 L875.90,210.4 L876.09,212.2 L876.28,214.0 L876.48,215.7 L876.67,217.3 L876.86,218.9 L877.06,220.4 L877.25,221.8 L877.45,217.6 L877.64,212.9 L877.84,207.7 L878.03,202.1 L878.23,196.1 L878.42,189.8 L878.62,183.1 L878.81,176.1 L879.01,169.0 L879.20,161.7 L879.40,154.4 L879.60,149.9 L879.79,145.4 L879.99,141.0 L880.18,136.6 L880.38,132.3 L880.57,128.0 L880.77,123.8 L880.96,119.7 L881.16,115.8 L881.35,112.0 L881.55,108.3 L881.74,104.7 L881.94,101.4 L882.13,98.2 L882.33,95.1 L882.52,92.3 L882.72,89.6 L882.91,87.2 L883.11,84.9 L883.30,82.9 L883.50,81.0 L883.69,82.9 L883.88,84.9 L884.07,87.2 L884.26,89.6 L884.45,92.3 L884.64,95.1 L884.83,98.2 L885.02,101.4 L885.21,104.7 L885.40,108.3 L885.60,112.0 L885.79,115.8 L885.98,119.7 L886.17,123.8 L886.36,128.0 L886.55,132.3 L886.74,136.6 L886.93,141.0 L887.12,145.4 L887.31,149.9 L887.50,154.4 L887.70,156.6 L887.90,158.8 L888.10,161.0 L888.29,163.3 L888.49,165.5 L888.69,167.6 L888.89,169.8 L889.09,172.0 L889.29,174.1 L889.49,176.2 L889.68,178.3 L889.88,180.4 L890.08,182.5 L890.28,184.5 L890.48,186.5 L890.68,188.5 L890.88,190.4 L891.07,192.3 L891.27,194.2 L891.47,196.0 L891.67,197.8 L891.87,199.6 L892.07,201.3 L892.26,203.0 L892.46,204.6 L892.66,206.2 L892.86,207.7 L893.06,209.2 L893.26,210.7 L893.46,212.1 L893.65,213.5 L893.85,214.8 L894.05,216.1 L894.25,217.3 L894.43,213.4 L894.61,209.0 L894.80,204.2 L894.98,198.9 L895.16,193.3 L895.34,187.4 L895.52,181.2 L895.70,174.7 L895.89,168.0 L896.07,161.2 L896.25,154.4 L896.45,150.4 L896.64,146.4 L896.84,142.5 L897.04,138.6 L897.24,134.7 L897.43,131.0 L897.63,127.3 L897.83,123.8 L898.03,120.4 L898.22,117.1 L898.42,113.9 L898.62,111.0 L898.82,108.2 L899.01,105.5 L899.21,103.1 L899.41,100.8 L899.61,98.8 L899.80,96.9 L900.00,95.2 L900.20,96.8 L900.39,98.6 L900.59,100.5 L900.78,102.6 L900.98,104.9 L901.17,107.3 L901.37,110.0 L901.56,112.7 L901.75,115.6 L901.95,118.7 L902.14,121.9 L902.34,125.2 L902.53,128.6 L902.73,132.1 L902.92,135.7 L903.12,139.3 L903.31,143.1 L903.51,146.8 L903.70,150.6 L903.90,154.4 L904.05,156.1 L904.20,157.6 L904.35,158.9 L904.50,160.0 L904.68,159.2 L904.86,158.2 L905.04,157.0 L905.22,155.7 L905.40,154.4 L905.60,152.3 L905.80,150.2 L906.00,148.2 L906.20,146.4 L906.40,144.9 L906.60,143.6 L906.80,142.5 L906.99,143.6 L907.17,144.9 L907.36,146.4 L907.54,148.2 L907.73,150.2 L907.91,152.3 L908.10,154.4 L908.30,158.8 L908.50,163.1 L908.70,167.5 L908.90,171.8 L909.10,176.0 L909.30,180.1 L909.50,184.1 L909.70,188.1 L909.90,191.9 L910.10,195.5 L910.30,199.0 L910.50,202.4 L910.70,205.6 L910.90,208.6 L911.10,211.4 L911.30,214.1 L911.50,216.6 L911.69,213.9 L911.89,211.1 L912.08,208.0 L912.27,204.8 L912.47,201.4 L912.66,197.7 L912.86,193.9 L913.05,190.0 L913.24,185.9 L913.44,181.6 L913.63,177.3 L913.83,172.8 L914.02,168.3 L914.21,163.7 L914.41,159.1 L914.60,154.4 L914.79,150.2 L914.98,146.0 L915.17,141.9 L915.36,137.9 L915.55,133.9 L915.74,130.1 L915.92,126.5 L916.11,123.0 L916.30,119.7 L916.49,116.6 L916.68,113.7 L916.87,111.1 L917.06,108.7 L917.25,106.5 L917.45,106.9 L917.64,108.0 L917.84,109.9 L918.04,112.4 L918.24,115.5 L918.43,119.1 L918.63,123.0 L918.83,127.2 L919.02,131.3 L919.22,135.5 L919.42,139.4 L919.61,143.0 L919.81,146.1 L920.01,148.6 L920.21,150.5 L920.40,151.6 L920.60,152.0 L920.80,151.8 L921.00,151.3 L921.20,150.4 L921.40,149.2 L921.60,147.8 L921.80,146.1 L922.00,144.2 L922.20,142.1 L922.40,140.0 L922.60,137.8 L922.80,135.7 L923.00,133.7 L923.20,131.8 L923.40,130.1 L923.60,128.6 L923.80,127.4 L924.00,126.6 L924.20,126.0 L924.40,125.8 L924.58,127.8 L924.76,130.0 L924.94,132.5 L925.12,135.1 L925.30,138.0 L925.48,141.1 L925.66,144.3 L925.84,147.6 L926.02,151.0 L926.20,154.4 L926.40,160.1 L926.60,165.8 L926.80,171.4 L927.00,176.9 L927.20,182.3 L927.40,187.5 L927.60,192.6 L927.80,197.4 L928.00,202.0 L928.20,206.4 L928.40,210.5 L928.60,214.3 L928.80,217.8 L929.00,221.1 L929.19,218.7 L929.39,216.2 L929.58,213.5 L929.78,210.7 L929.97,207.7 L930.17,204.6 L930.36,201.3 L930.56,197.9 L930.75,194.4 L930.95,190.7 L931.14,187.0 L931.34,183.1 L931.53,179.2 L931.73,175.2 L931.92,171.1 L932.12,167.0 L932.31,162.8 L932.51,158.6 L932.70,154.4 L932.89,150.4 L933.07,146.4 L933.26,142.5 L933.45,138.7 L933.63,135.0 L933.82,131.5 L934.00,128.1 L934.19,125.0 L934.38,122.0 L934.56,119.3 L934.75,116.8 L934.94,116.9 L935.12,117.4 L935.31,118.2 L935.50,119.3 L935.69,120.6 L935.88,122.1 L936.06,123.7 L936.25,125.4 L936.44,127.1 L936.62,128.7 L936.81,130.2 L937.00,131.5 L937.19,132.5 L937.38,133.3 L937.56,133.8 L937.75,134.0 L937.94,133.8 L938.13,133.2 L938.32,132.2 L938.51,130.8 L938.71,129.2 L938.90,127.3 L939.09,125.2 L939.28,122.9 L939.47,120.7 L939.66,118.5 L939.85,116.4 L940.04,114.5 L940.24,112.8 L940.43,111.5 L940.62,110.5 L940.81,109.9 L941.00,109.7 L941.19,112.8 L941.38,116.1 L941.57,119.7 L941.76,123.5 L941.95,127.5 L942.15,131.7 L942.34,136.1 L942.53,140.5 L942.72,145.1 L942.91,149.7 L943.10,154.4 L943.30,159.2 L943.49,164.0 L943.69,168.8 L943.88,173.5 L944.08,178.2 L944.27,182.9 L944.47,187.4 L944.66,191.8 L944.86,196.2 L945.05,200.4 L945.25,204.5 L945.44,208.5 L945.63,212.4 L945.83,216.1 L946.02,219.6 L946.22,223.0 L946.41,226.2 L946.61,229.2 L946.80,232.1 L947.00,234.8 L947.19,232.0 L947.39,228.9 L947.58,225.7 L947.78,222.3 L947.97,218.7 L948.17,214.9 L948.36,211.0 L948.56,206.9 L948.75,202.6 L948.95,198.2 L949.14,193.7 L949.34,189.0 L949.53,184.3 L949.73,179.5 L949.92,174.5 L950.12,169.6 L950.31,164.5 L950.51,159.5 L950.70,154.4 L950.90,149.5 L951.10,144.7 L951.30,139.9 L951.50,135.2 L951.70,130.6 L951.90,126.1 L952.10,121.7 L952.30,117.5 L952.50,113.5 L952.70,109.7 L952.90,106.0 L953.08,105.9 L953.26,105.6 L953.45,105.2 L953.63,104.5 L953.81,103.8 L953.99,103.1 L954.17,102.4 L954.35,101.7 L954.54,101.3 L954.72,101.0 L954.90,100.8 L955.08,101.9 L955.26,104.8 L955.44,108.3 L955.62,111.2 L955.80,112.2 L955.99,112.2 L956.17,112.0 L956.36,111.7 L956.54,111.2 L956.73,110.7 L956.91,110.1 L957.10,109.5 L957.29,108.9 L957.47,108.3 L957.66,107.8 L957.84,107.3 L958.03,107.0 L958.21,106.8 L958.40,106.8 L958.58,110.2 L958.77,113.7 L958.95,117.3 L959.13,121.1 L959.32,125.0 L959.50,129.0 L959.68,133.1 L959.87,137.3 L960.05,141.5 L960.23,145.8 L960.42,150.1 L960.60,154.4 L960.80,160.4 L960.99,166.3 L961.19,172.2 L961.39,178.0 L961.58,183.7 L961.78,189.3 L961.98,194.7 L962.17,200.0 L962.37,205.1 L962.57,209.9 L962.77,214.6 L962.96,219.0 L963.16,223.1 L963.36,227.0 L963.55,230.7 L963.75,234.1 L963.94,231.9 L964.14,229.7 L964.33,227.3 L964.53,224.9 L964.72,222.3 L964.91,219.7 L965.11,216.9 L965.30,214.0 L965.50,211.1 L965.69,208.0 L965.88,204.9 L966.08,201.6 L966.27,198.3 L966.47,194.9 L966.66,191.5 L966.85,188.0 L967.05,184.4 L967.24,180.8 L967.44,177.1 L967.63,173.4 L967.82,169.6 L968.02,165.8 L968.21,162.0 L968.41,158.2 L968.60,154.4 L968.79,150.5 L968.98,146.6 L969.18,142.7 L969.37,138.8 L969.56,134.9 L969.75,131.1 L969.94,127.3 L970.14,123.5 L970.33,119.8 L970.52,116.1 L970.71,112.5 L970.91,108.9 L971.10,105.4 L971.29,102.0 L971.48,98.6 L971.67,95.3 L971.87,92.0 L972.06,88.9 L972.25,85.8 L972.45,87.5 L972.65,89.3 L972.84,91.1 L973.04,93.0 L973.24,94.9 L973.44,96.8 L973.64,98.7 L973.83,100.7 L974.03,102.7 L974.23,104.7 L974.43,106.8 L974.62,108.8 L974.82,110.9 L975.02,113.1 L975.22,115.2 L975.42,117.4 L975.61,119.5 L975.81,121.7 L976.01,123.9 L976.21,126.1 L976.41,128.3 L976.60,130.5 L976.80,132.8 L977.00,135.0 L977.19,138.1 L977.37,141.3 L977.56,144.4 L977.74,147.6 L977.93,150.7 L978.11,153.9 L978.30,157.0 L978.50,161.4 L978.69,165.9 L978.89,170.3 L979.09,174.6 L979.29,179.0 L979.49,183.2 L979.68,187.4 L979.88,191.5 L980.08,195.5 L980.27,199.4 L980.47,203.2 L980.67,206.8 L980.87,210.4 L981.06,213.8 L981.26,217.0 L981.46,220.2 L981.66,223.1 L981.86,225.9 L982.05,228.6 L982.25,231.1 L982.44,228.7 L982.64,226.2 L982.83,223.6 L983.02,220.9 L983.22,218.0 L983.41,215.0 L983.60,211.9 L983.80,208.7 L983.99,205.3 L984.18,201.9 L984.38,198.3 L984.57,194.6 L984.76,190.9 L984.95,187.0 L985.15,183.1 L985.34,179.1 L985.53,175.1 L985.73,171.0 L985.92,166.9 L986.11,162.7 L986.31,158.6 L986.50,154.4 L986.70,149.1 L986.89,143.7 L987.09,138.4 L987.29,133.1 L987.49,127.8 L987.68,122.6 L987.88,117.4 L988.08,112.3 L988.28,107.2 L988.47,102.2 L988.67,97.2 L988.87,92.4 L989.07,87.6 L989.26,82.9 L989.46,78.3 L989.66,73.7 L989.86,69.3 L990.05,65.0 L990.25,60.8 L990.45,63.8 L990.65,67.0 L990.84,70.2 L991.04,73.4 L991.24,76.7 L991.44,80.0 L991.64,83.4 L991.83,86.9 L992.03,90.3 L992.23,93.9 L992.43,97.4 L992.63,101.0 L992.83,104.7 L993.02,108.3 L993.22,112.1 L993.42,115.8 L993.62,119.6 L993.82,123.4 L994.01,127.2 L994.21,131.0 L994.41,134.9 L994.61,138.8 L994.81,142.7 L995.00,146.6 L995.20,150.5 L995.40,154.4 L995.60,158.9 L995.80,163.4 L995.99,167.8 L996.19,172.3 L996.39,176.7 L996.59,181.0 L996.78,185.3 L996.98,189.5 L997.18,193.6 L997.38,197.6 L997.58,201.6 L997.77,205.4 L997.97,209.1 L998.17,212.7 L998.37,216.2 L998.56,219.6 L998.76,222.8 L998.96,225.9 L999.16,228.8 L999.35,231.6 L999.55,234.3 L999.75,236.8 L999.94,234.6 L1000.14,232.3 L1000.33,229.9 L1000.53,227.3 L1000.72,224.7 L1000.91,221.9 L1001.11,219.1 L1001.30,216.1 L1001.50,213.0 L1001.69,209.9 L1001.88,206.6 L1002.08,203.3 L1002.27,199.9 L1002.47,196.3 L1002.66,192.8 L1002.85,189.1 L1003.05,185.4 L1003.24,181.7 L1003.44,177.9 L1003.63,174.0 L1003.82,170.1 L1004.02,166.2 L1004.21,162.3 L1004.41,158.4 L1004.60,154.4 L1004.80,149.2 L1004.99,143.9 L1005.19,138.7 L1005.38,133.5 L1005.58,128.3 L1005.77,123.2 L1005.97,118.1 L1006.16,113.0 L1006.36,108.0 L1006.55,103.1 L1006.75,98.2 L1006.94,93.4 L1007.13,88.6 L1007.33,84.0 L1007.52,79.4 L1007.72,74.9 L1007.91,70.5 L1008.11,66.1 L1008.30,61.9 L1008.50,57.8 L1008.69,60.8 L1008.89,63.9 L1009.08,67.1 L1009.28,70.3 L1009.47,73.6 L1009.67,76.9 L1009.86,80.2 L1010.06,83.6 L1010.25,87.1 L1010.44,90.6 L1010.64,94.1 L1010.83,97.7 L1011.03,101.3 L1011.22,104.9 L1011.42,108.6 L1011.61,112.3 L1011.81,116.0 L1012.00,119.8 L1012.19,123.6 L1012.39,127.4 L1012.58,131.2 L1012.78,135.0 L1012.97,138.9 L1013.17,142.8 L1013.36,146.6 L1013.56,150.5 L1013.75,154.4 L1013.95,157.3 L1014.14,160.1 L1014.34,162.9 L1014.54,165.8 L1014.73,168.6 L1014.93,171.4 L1015.12,174.2 L1015.32,176.9 L1015.52,179.6 L1015.71,182.3 L1015.91,184.9 L1016.11,187.5 L1016.30,190.1 L1016.50,192.6 L1016.70,195.0 L1016.89,197.4 L1017.09,199.7 L1017.29,202.0 L1017.48,204.2 L1017.68,206.4 L1017.88,208.4 L1018.07,210.5 L1018.27,212.4 L1018.46,214.3 L1018.66,216.1 L1018.86,217.8 L1019.05,219.5 L1019.25,221.1 L1019.45,219.3 L1019.65,217.4 L1019.84,215.4 L1020.04,213.4 L1020.24,211.2 L1020.44,209.0 L1020.64,206.7 L1020.83,204.3 L1021.03,201.8 L1021.23,199.3 L1021.43,196.6 L1021.63,193.9 L1021.82,191.2 L1022.02,188.3 L1022.22,185.4 L1022.42,182.5 L1022.62,179.5 L1022.81,176.5 L1023.01,173.4 L1023.21,170.3 L1023.41,167.1 L1023.61,164.0 L1023.80,160.8 L1024.00,157.6 L1024.20,154.4 L1024.40,148.5 L1024.60,142.6 L1024.80,136.7 L1025.00,130.9 L1025.20,125.0 L1025.40,119.3 L1025.60,113.5 L1025.80,107.9 L1026.00,102.3 L1026.20,96.7 L1026.40,91.3 L1026.60,85.9 L1026.80,80.6 L1027.00,75.4 L1027.20,70.3 L1027.40,65.4 L1027.60,60.5 L1027.80,55.7 L1028.00,51.0 L1028.20,54.9 L1028.39,58.8 L1028.59,62.8 L1028.78,66.9 L1028.98,71.0 L1029.17,75.2 L1029.37,79.5 L1029.57,83.8 L1029.76,88.2 L1029.96,92.7 L1030.15,97.2 L1030.35,101.8 L1030.54,106.4 L1030.74,111.1 L1030.93,115.8 L1031.13,120.5 L1031.33,125.3 L1031.52,130.1 L1031.72,134.9 L1031.91,139.8 L1032.11,144.6 L1032.30,149.5 L1032.50,154.4 L1032.69,157.4 L1032.88,160.4 L1033.08,163.4 L1033.27,166.4 L1033.46,169.4 L1033.65,172.3 L1033.85,175.2 L1034.04,178.1 L1034.23,181.0 L1034.42,183.8 L1034.62,186.5 L1034.81,189.2 L1035.00,191.8 L1035.19,194.4 L1035.38,196.9 L1035.58,199.4 L1035.77,201.8 L1035.96,204.1 L1036.15,206.3 L1036.35,208.5 L1036.54,210.6 L1036.73,212.6 L1036.92,214.5 L1037.12,216.4 L1037.31,218.1 L1037.50,219.8 L1037.70,218.3 L1037.89,216.7 L1038.09,215.1 L1038.29,213.4 L1038.48,211.6 L1038.68,209.8 L1038.88,207.9 L1039.07,206.0 L1039.27,203.9 L1039.47,201.9 L1039.66,199.7 L1039.86,197.5 L1040.06,195.3 L1040.25,193.0 L1040.45,190.7 L1040.64,188.3 L1040.84,185.8 L1041.04,183.4 L1041.23,180.9 L1041.43,178.3 L1041.63,175.7 L1041.82,173.1 L1042.02,170.5 L1042.22,167.9 L1042.41,165.2 L1042.61,162.5 L1042.81,159.8 L1043.00,157.1 L1043.20,154.4 L1043.40,150.3 L1043.59,146.2 L1043.79,142.1 L1043.98,138.0 L1044.18,133.9 L1044.38,129.8 L1044.57,125.8 L1044.77,121.7 L1044.97,117.7 L1045.16,113.7 L1045.36,109.8 L1045.55,105.9 L1045.75,102.0 L1045.95,98.2 L1046.14,94.4 L1046.34,90.6 L1046.53,86.9 L1046.73,83.2 L1046.93,79.6 L1047.12,76.1 L1047.32,72.5 L1047.52,69.1 L1047.71,65.7 L1047.91,62.3 L1048.10,59.0 L1048.30,55.8 L1048.49,60.7 L1048.68,65.9 L1048.86,71.1 L1049.05,76.5 L1049.24,82.0 L1049.43,87.6 L1049.62,93.3 L1049.81,99.1 L1049.99,105.0 L1050.18,111.0 L1050.37,117.0 L1050.56,123.1 L1050.75,129.3 L1050.94,135.6 L1051.12,141.8 L1051.31,148.1 L1051.50,154.4 L1051.69,157.4 L1051.89,160.5 L1052.08,163.5 L1052.27,166.5 L1052.46,169.5 L1052.66,172.5 L1052.85,175.4 L1053.04,178.3 L1053.23,181.2 L1053.43,184.0 L1053.62,186.8 L1053.81,189.5 L1054.00,192.2 L1054.20,194.9 L1054.39,197.4 L1054.58,199.9 L1054.77,202.4 L1054.97,204.8 L1055.16,207.1 L1055.35,209.3 L1055.54,211.5 L1055.74,213.6 L1055.93,215.6 L1056.12,217.5 L1056.31,219.3 L1056.51,221.1 L1056.70,222.8" fill="none" stroke="#ff00ff" stroke-width="3.0" stroke-linejoin="round" stroke-linecap="round"/>
<path d="M1070.8,138.0 L1071.2,172.0 L1072.0,183.0 L1072.5,200.0 L1074.5,232.0 L1075.4,236.6 L1076.3,231.0 L1077.0,229.5 L1079.5,229.0 L1080.0,224.0 L1082.5,223.0 L1082.8,182.0 L1085.0,180.0 L1085.3,130.0 L1085.0,96.0 L1083.3,88.0 L1081.0,92.0 L1079.8,118.0 L1078.5,131.0 L1076.0,134.0 L1074.3,131.0 L1073.2,119.0 L1071.5,118.0 L1071.0,102.3 L1067.2,102.3 L1066.5,110.4 L1064.0,110.4 L1063.0,120.0 L1061.0,138.0 L1059.0,160.0 L1057.9,183.0 L1057.0,215.0 L1056.8,223.3 L1058.0,215.0 L1060.0,200.0 L1061.5,183.0 L1064.0,170.0 L1066.3,140.0 Z" fill="#ff00ff" stroke="#ff00ff" stroke-width="1.2" stroke-linejoin="round"/>
<g font-family="Liberation Sans, sans-serif" fill="#262626" style="filter:grayscale(1)">
<text x="71.00" y="371.5" font-size="20" text-anchor="middle">0</text>
<text x="252.67" y="371.5" font-size="20" text-anchor="middle">0.05</text>
<text x="434.33" y="371.5" font-size="20" text-anchor="middle">0.1</text>
<text x="616.00" y="371.5" font-size="20" text-anchor="middle">0.15</text>
<text x="797.67" y="371.5" font-size="20" text-anchor="middle">0.2</text>
<text x="979.33" y="371.5" font-size="20" text-anchor="middle">0.25</text>
<text x="1161.00" y="371.5" font-size="20" text-anchor="middle">0.3</text>
<text x="64" y="33.20" font-size="20" text-anchor="end">0.2</text>
<text x="64" y="97.40" font-size="20" text-anchor="end">0.1</text>
<text x="64" y="160.30" font-size="20" text-anchor="end">0</text>
<text x="64" y="225.80" font-size="20" text-anchor="end">-0.1</text>
<text x="64" y="290.00" font-size="20" text-anchor="end">-0.2</text>
<text x="64" y="354.20" font-size="20" text-anchor="end">-0.3</text>
<text x="616" y="18" font-size="21.75" font-weight="bold" text-anchor="middle">MAT-005-030-0010</text>
<text x="616" y="398" font-size="22" text-anchor="middle">Time (s)</text>
<text transform="translate(19,186.5) rotate(-90)" font-size="22" text-anchor="middle">Amplitude</text>
</g>
</svg>
</body></html>
